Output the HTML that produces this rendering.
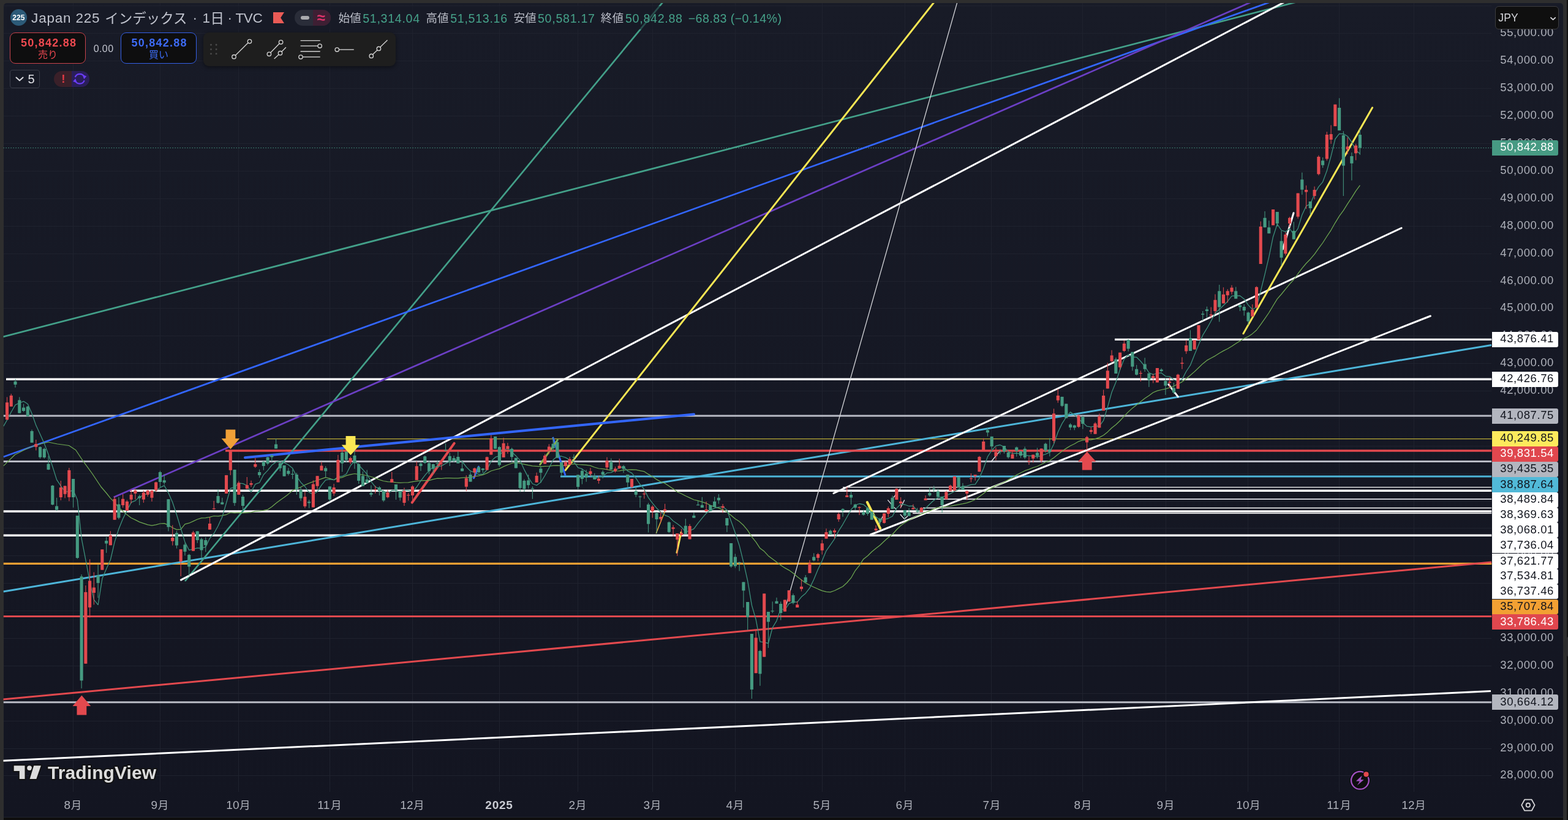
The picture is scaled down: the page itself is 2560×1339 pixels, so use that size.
<!DOCTYPE html>
<html><head><meta charset="utf-8"><title>Japan 225</title>
<style>
html,body{margin:0;padding:0}
body{width:2560px;height:1339px;background:#2e2e2e;overflow:hidden;position:relative;font-family:"Liberation Sans",sans-serif}
#panel{position:absolute;left:5.5px;top:5px;width:2546.9px;height:1329px;background:linear-gradient(#181b27,#131521);border-radius:5px 5px 0 0}
#bottom{position:absolute;left:5.5px;top:1334px;width:2546.9px;height:5px;background:#0e0e0e;border-top:1px solid #20232f;box-sizing:border-box}
#rightstrip{position:absolute;left:2558.3px;top:0;width:2px;height:1339px;background:#111111}
#chart{position:absolute;left:0;top:0}
#txt{position:absolute;left:0;top:0;width:2560px;height:1339px;will-change:transform}
.t{position:absolute;line-height:1;white-space:nowrap}
.pl{position:absolute;left:2436px;width:108.2px;border-radius:0 3px 3px 0;font-size:18.5px;letter-spacing:0.6px;line-height:1}

.btn{position:absolute;top:53.1px;width:124.3px;height:50.5px;border:1.5px solid;border-radius:9px;background:#0e0e0f;box-sizing:border-box}
.pl span{position:absolute;left:13.3px;top:50%;margin-top:-10px}
</style></head><body>
<div id="panel"></div><div id="bottom"></div><div id="rightstrip"></div>
<svg id="chart" width="2560" height="1339" viewBox="0 0 2560 1339">
<g stroke="#1f222e" stroke-width="1" shape-rendering="crispEdges">
<line x1="5.5" y1="1266.5" x2="2434.8" y2="1266.5"/>
<line x1="5.5" y1="1222.5" x2="2434.8" y2="1222.5"/>
<line x1="5.5" y1="1177.5" x2="2434.8" y2="1177.5"/>
<line x1="5.5" y1="1132.5" x2="2434.8" y2="1132.5"/>
<line x1="5.5" y1="1087.5" x2="2434.8" y2="1087.5"/>
<line x1="5.5" y1="1042.5" x2="2434.8" y2="1042.5"/>
<line x1="5.5" y1="997.5" x2="2434.8" y2="997.5"/>
<line x1="5.5" y1="952.5" x2="2434.8" y2="952.5"/>
<line x1="5.5" y1="907.5" x2="2434.8" y2="907.5"/>
<line x1="5.5" y1="862.5" x2="2434.8" y2="862.5"/>
<line x1="5.5" y1="818.5" x2="2434.8" y2="818.5"/>
<line x1="5.5" y1="773.5" x2="2434.8" y2="773.5"/>
<line x1="5.5" y1="728.5" x2="2434.8" y2="728.5"/>
<line x1="5.5" y1="683.5" x2="2434.8" y2="683.5"/>
<line x1="5.5" y1="638.5" x2="2434.8" y2="638.5"/>
<line x1="5.5" y1="593.5" x2="2434.8" y2="593.5"/>
<line x1="5.5" y1="548.5" x2="2434.8" y2="548.5"/>
<line x1="5.5" y1="503.5" x2="2434.8" y2="503.5"/>
<line x1="5.5" y1="459.5" x2="2434.8" y2="459.5"/>
<line x1="5.5" y1="414.5" x2="2434.8" y2="414.5"/>
<line x1="5.5" y1="369.5" x2="2434.8" y2="369.5"/>
<line x1="5.5" y1="324.5" x2="2434.8" y2="324.5"/>
<line x1="5.5" y1="279.5" x2="2434.8" y2="279.5"/>
<line x1="5.5" y1="234.5" x2="2434.8" y2="234.5"/>
<line x1="5.5" y1="189.5" x2="2434.8" y2="189.5"/>
<line x1="5.5" y1="144.5" x2="2434.8" y2="144.5"/>
<line x1="5.5" y1="99.5" x2="2434.8" y2="99.5"/>
<line x1="5.5" y1="54.5" x2="2434.8" y2="54.5"/>
<line x1="5.5" y1="9.5" x2="2434.8" y2="9.5"/>
<line x1="119.5" y1="5" x2="119.5" y2="1292.5"/>
<line x1="261.5" y1="5" x2="261.5" y2="1292.5"/>
<line x1="389.5" y1="5" x2="389.5" y2="1292.5"/>
<line x1="538.5" y1="5" x2="538.5" y2="1292.5"/>
<line x1="673.5" y1="5" x2="673.5" y2="1292.5"/>
<line x1="815.5" y1="5" x2="815.5" y2="1292.5"/>
<line x1="943.5" y1="5" x2="943.5" y2="1292.5"/>
<line x1="1065.5" y1="5" x2="1065.5" y2="1292.5"/>
<line x1="1200.5" y1="5" x2="1200.5" y2="1292.5"/>
<line x1="1342.5" y1="5" x2="1342.5" y2="1292.5"/>
<line x1="1477.5" y1="5" x2="1477.5" y2="1292.5"/>
<line x1="1618.5" y1="5" x2="1618.5" y2="1292.5"/>
<line x1="1767.5" y1="5" x2="1767.5" y2="1292.5"/>
<line x1="1903.5" y1="5" x2="1903.5" y2="1292.5"/>
<line x1="2037.5" y1="5" x2="2037.5" y2="1292.5"/>
<line x1="2186.5" y1="5" x2="2186.5" y2="1292.5"/>
<line x1="2308.5" y1="5" x2="2308.5" y2="1292.5"/>
</g>
<clipPath id="pane"><rect x="5.5" y="5" width="2430.0" height="1287.5"/></clipPath>
<g clip-path="url(#pane)">
<line x1="5.5" y1="241.5" x2="2435.5" y2="241.5" stroke="#4ba890" stroke-width="1" stroke-dasharray="1.3 2.7"/>
<line x1="5.5" y1="1146.7" x2="2435.5" y2="1146.7" stroke="#b9bbc5" stroke-width="3"/>
<line x1="5.5" y1="1006.5" x2="2435.5" y2="1006.5" stroke="#e2494e" stroke-width="3"/>
<line x1="5.5" y1="920.4" x2="2435.5" y2="920.4" stroke="#f2a033" stroke-width="3.4"/>
<line x1="5.5" y1="874.3" x2="2435.5" y2="874.3" stroke="#ffffff" stroke-width="3.4"/>
<line x1="1490.0" y1="838.3" x2="2435.5" y2="838.3" stroke="#ffffff" stroke-width="1.4"/>
<line x1="5.5" y1="835.0" x2="2435.5" y2="835.0" stroke="#ffffff" stroke-width="3.4"/>
<line x1="1507.0" y1="829.5" x2="2435.5" y2="829.5" stroke="#ffffff" stroke-width="1.4"/>
<line x1="1513.0" y1="815.0" x2="2435.5" y2="815.0" stroke="#c9cad2" stroke-width="2"/>
<line x1="212.0" y1="801.2" x2="2435.5" y2="801.2" stroke="#ffffff" stroke-width="3.4"/>
<line x1="1376.0" y1="795.6" x2="2435.5" y2="795.6" stroke="#ffffff" stroke-width="1.4"/>
<line x1="5.5" y1="753.4" x2="2435.5" y2="753.4" stroke="#b9bbc5" stroke-width="3"/>
<line x1="436.0" y1="716.6" x2="2435.5" y2="716.6" stroke="#b9a935" stroke-width="1.2"/>
<line x1="5.5" y1="679.0" x2="2435.5" y2="679.0" stroke="#b9bbc5" stroke-width="3"/>
<line x1="10.0" y1="619.3" x2="2435.5" y2="619.3" stroke="#ffffff" stroke-width="3.4"/>
<line x1="1820.0" y1="554.4" x2="2435.5" y2="554.4" stroke="#ffffff" stroke-width="3.4"/>
<line x1="5.0" y1="1242.2" x2="2434.0" y2="1128.5" stroke="#ffffff" stroke-width="3" stroke-linecap="butt"/>
<line x1="5.0" y1="1142.0" x2="2435.0" y2="918.0" stroke="#e2494e" stroke-width="3" stroke-linecap="butt"/>
<line x1="5.5" y1="966.0" x2="2435.0" y2="563.5" stroke="#4db5d9" stroke-width="3" stroke-linecap="butt"/>
<line x1="915.0" y1="778.0" x2="2435.5" y2="778.0" stroke="#4db5d9" stroke-width="3"/>
<line x1="368.0" y1="736.0" x2="2435.5" y2="736.0" stroke="#e2494e" stroke-width="3.4"/>
<line x1="5.0" y1="550.0" x2="2129.3" y2="0.0" stroke="#43a089" stroke-width="2.7" stroke-linecap="butt"/>
<line x1="302.0" y1="949.0" x2="1085.1" y2="0.0" stroke="#43a089" stroke-width="2.7" stroke-linecap="butt"/>
<line x1="5.6" y1="745.9" x2="2082.9" y2="0.0" stroke="#3366ff" stroke-width="2.7" stroke-linecap="butt"/>
<line x1="185.6" y1="811.9" x2="2050.5" y2="0.0" stroke="#6b3fc4" stroke-width="2.7" stroke-linecap="butt"/>
<line x1="294.4" y1="947.7" x2="2103.5" y2="0.0" stroke="#ffffff" stroke-width="3" stroke-linecap="butt"/>
<line x1="922.3" y1="768.8" x2="1527.9" y2="0.0" stroke="#fbe754" stroke-width="3" stroke-linecap="butt"/>
<line x1="1283.0" y1="990.0" x2="1563.9" y2="0.0" stroke="#d5d6da" stroke-width="1.3" stroke-linecap="butt"/>
<line x1="1361.0" y1="805.5" x2="2288.1" y2="372.3" stroke="#ffffff" stroke-width="3" stroke-linecap="round"/>
<line x1="1421.2" y1="873.0" x2="2335.4" y2="516.0" stroke="#ffffff" stroke-width="3" stroke-linecap="round"/>
<line x1="400.0" y1="747.2" x2="1133.0" y2="676.4" stroke="#3366ff" stroke-width="4" stroke-linecap="round"/>
<line x1="902.5" y1="713.8" x2="923.1" y2="776.6" stroke="#3366ff" stroke-width="3" stroke-linecap="butt"/>
<line x1="672.8" y1="820.6" x2="741.6" y2="723.8" stroke="#e2494e" stroke-width="4" stroke-linecap="round"/>
<line x1="881.7" y1="758.6" x2="910.3" y2="718.4" stroke="#8fb24c" stroke-width="3" stroke-linecap="round"/>
<line x1="2029.9" y1="544.7" x2="2240.6" y2="175.7" stroke="#fbe754" stroke-width="3" stroke-linecap="round"/>
<line x1="1415.8" y1="820.0" x2="1437.2" y2="862.8" stroke="#fbe754" stroke-width="4" stroke-linecap="round"/>
<line x1="1105.0" y1="902.3" x2="1111.9" y2="869.5" stroke="#fbe754" stroke-width="3" stroke-linecap="round"/>
<line x1="1071.2" y1="871.0" x2="1085.6" y2="834.7" stroke="#e5b13a" stroke-width="1.5" stroke-linecap="butt"/>
<line x1="1907.8" y1="627.6" x2="1923.3" y2="647.9" stroke="#ffffff" stroke-width="3" stroke-linecap="round"/>
<line x1="2094.3" y1="407.0" x2="2112.0" y2="347.7" stroke="#ffffff" stroke-width="3" stroke-linecap="round"/>
<line x1="773.6" y1="780.8" x2="781.4" y2="762.0" stroke="#3366ff" stroke-width="3" stroke-linecap="round"/>
<line x1="1449.4" y1="816.4" x2="1455.3" y2="823.4" stroke="#e6e6ea" stroke-width="1.3" stroke-linecap="butt"/>
<line x1="1459.5" y1="828.1" x2="1463.4" y2="832.0" stroke="#e6e6ea" stroke-width="1.3" stroke-linecap="butt"/>
<line x1="1470.0" y1="797.7" x2="1458.8" y2="812.5" stroke="#e6e6ea" stroke-width="1.3" stroke-linecap="butt"/>
<line x1="1476.7" y1="816.4" x2="1470.0" y2="829.7" stroke="#e6e6ea" stroke-width="1.3" stroke-linecap="butt"/>
<line x1="1469.7" y1="839.8" x2="1476.7" y2="847.7" stroke="#e6e6ea" stroke-width="1.3" stroke-linecap="butt"/>
<line x1="1476.7" y1="847.7" x2="1482.2" y2="842.2" stroke="#e6e6ea" stroke-width="1.3" stroke-linecap="butt"/>
<line x1="1435.6" y1="854.7" x2="1441.6" y2="842.2" stroke="#e6e6ea" stroke-width="1.3" stroke-linecap="butt"/>
<line x1="1618.0" y1="754.0" x2="1633.0" y2="736.2" stroke="#e6e6ea" stroke-width="1.3" stroke-linecap="butt"/>
<polyline fill="none" stroke="#6ea851" stroke-width="1.25" stroke-linejoin="round" points="5.6,760.9 24.4,742.5 46.9,731.0 61.9,726.0 78.8,722.0 93.8,725.0 112.5,727.5 123.8,735.0 135.0,752.0 150.0,772.5 165.0,795.0 173.6,805.0 180.4,813.6 187.1,820.4 193.9,829.1 200.6,834.7 207.4,840.6 214.2,845.7 220.9,848.9 227.7,852.4 234.4,854.7 241.2,856.9 247.9,858.2 254.7,856.8 261.4,855.0 268.2,854.6 274.9,857.3 281.7,861.7 288.5,864.9 295.2,864.3 302.0,855.9 308.7,854.2 315.5,851.1 322.2,848.0 329.0,845.8 335.7,845.6 342.5,844.3 349.2,842.5 356.0,842.8 362.8,841.9 369.5,840.3 376.3,837.0 383.0,837.6 389.8,837.1 396.5,837.6 403.3,837.1 410.0,836.6 416.8,834.9 423.6,834.4 430.3,833.4 437.1,832.1 443.8,827.6 450.6,821.8 457.3,816.7 464.1,811.9 470.8,806.9 477.6,800.8 484.3,798.0 491.1,795.3 497.9,791.8 504.6,789.0 511.4,786.5 518.1,784.3 524.9,781.9 531.6,779.7 538.4,781.3 545.1,783.7 551.9,780.9 558.7,779.6 565.4,776.6 572.2,774.9 578.9,773.5 585.7,774.6 592.4,775.3 599.2,776.5 605.9,778.5 612.7,780.6 619.5,783.4 626.2,785.5 633.0,786.6 639.7,786.9 646.5,787.9 653.2,788.4 660.0,788.0 666.7,787.8 673.5,786.7 680.2,785.6 687.0,784.9 693.8,784.7 700.5,784.7 707.3,782.7 714.0,781.2 720.8,781.4 727.5,780.6 734.3,780.7 741.0,780.8 747.8,780.9 754.5,780.2 761.3,779.7 768.1,779.6 774.8,777.9 781.6,776.8 788.3,775.4 795.1,772.6 801.8,769.0 808.6,767.0 815.3,765.4 822.1,761.9 828.9,759.0 835.6,756.5 842.4,755.3 849.1,756.7 855.9,758.2 862.6,759.7 869.4,760.8 876.1,761.3 882.9,761.9 889.6,761.4 896.4,761.1 903.2,760.3 909.9,760.1 916.7,760.7 923.4,760.1 930.2,758.8 936.9,757.3 943.7,758.5 950.4,758.9 957.2,759.4 964.0,760.3 970.7,763.0 977.5,765.0 984.2,765.6 991.0,766.7 997.7,768.3 1004.5,769.0 1011.2,768.9 1018.0,767.6 1024.8,767.2 1031.5,766.8 1038.3,767.2 1045.0,768.6 1051.8,769.9 1058.5,774.4 1065.3,778.3 1072.0,782.9 1078.8,786.8 1085.5,789.2 1092.3,793.8 1099.1,798.2 1105.8,803.2 1112.6,806.2 1119.3,809.8 1126.1,812.9 1132.8,816.0 1139.6,817.7 1146.3,819.6 1153.1,821.8 1159.8,825.1 1166.6,827.6 1173.4,829.6 1180.1,832.3 1186.9,836.0 1193.6,841.5 1200.4,847.2 1207.1,851.6 1213.9,857.8 1220.6,865.8 1227.4,876.6 1234.2,885.2 1240.9,895.3 1247.7,900.3 1254.4,907.7 1261.2,912.8 1267.9,917.8 1274.7,923.0 1281.4,927.4 1288.2,931.1 1295.0,936.1 1301.7,941.8 1308.5,947.1 1315.2,951.9 1322.0,955.5 1328.7,958.7 1335.5,961.8 1342.2,964.6 1349.0,966.3 1355.7,966.9 1362.5,964.5 1369.3,961.1 1376.0,957.7 1382.8,951.5 1389.5,943.7 1396.3,931.8 1403.0,923.3 1409.8,912.9 1416.5,907.7 1423.3,901.0 1430.0,895.6 1436.8,890.3 1443.6,883.7 1450.3,877.8 1457.1,872.5 1463.8,865.0 1470.6,858.3 1477.3,853.6 1484.1,849.3 1490.8,845.7 1497.6,842.5 1504.4,839.4 1511.1,836.5 1517.9,834.1 1524.6,831.1 1531.4,828.9 1538.1,828.3 1544.9,827.1 1551.6,826.5 1558.4,825.1 1565.1,823.8 1571.9,822.7 1578.7,821.1 1585.4,818.8 1592.2,815.8 1598.9,811.1 1605.7,805.9 1612.4,800.6 1619.2,796.6 1625.9,792.9 1632.7,790.5 1639.5,787.2 1646.2,783.4 1653.0,779.4 1659.7,775.6 1666.5,772.0 1673.2,768.7 1680.0,766.3 1686.7,763.6 1693.5,761.5 1700.2,758.3 1707.0,754.7 1713.8,752.1 1720.5,747.4 1727.3,742.1 1734.0,736.8 1740.8,732.1 1747.5,728.0 1754.3,724.7 1761.0,720.8 1767.8,718.7 1774.6,718.4 1781.3,718.2 1788.1,716.7 1794.8,714.4 1801.6,710.7 1808.3,705.4 1815.1,698.7 1821.8,693.5 1828.6,687.0 1835.3,679.7 1842.1,672.6 1848.9,666.4 1855.6,661.2 1862.4,655.8 1869.1,650.6 1875.9,646.0 1882.6,641.0 1889.4,638.1 1896.1,636.5 1902.9,635.1 1909.7,632.8 1916.4,630.5 1923.2,627.0 1929.9,623.6 1936.7,618.4 1943.4,612.8 1950.2,606.9 1956.9,600.5 1963.7,593.9 1970.5,588.4 1977.2,584.7 1984.0,581.1 1990.7,576.7 1997.5,572.9 2004.2,569.5 2011.0,565.5 2017.7,561.1 2024.5,556.7 2031.2,552.6 2038.0,549.5 2044.8,544.9 2051.5,539.0 2058.3,529.8 2065.0,520.4 2071.8,510.5 2078.5,499.2 2085.3,488.2 2092.0,480.5 2098.8,472.2 2105.6,463.8 2112.3,456.5 2119.1,447.0 2125.8,438.1 2132.6,430.0 2139.3,423.2 2146.1,415.1 2152.8,405.7 2159.6,396.5 2166.3,386.0 2173.1,375.8 2179.9,363.8 2186.6,352.8 2193.4,343.6 2200.1,332.9 2206.9,322.6 2213.6,311.8 2220.4,302.7"/>
<polyline fill="none" stroke="#3c907c" stroke-width="1.3" stroke-linejoin="round" points="5.6,696.2 11.5,686.0 18.2,673.0 25.0,661.2 31.8,658.0 38.5,655.3 45.3,659.8 52.0,675.2 58.8,694.6 65.5,709.0 72.3,724.2 79.0,741.7 85.8,761.9 92.6,783.4 99.3,793.3 106.1,802.6 112.8,802.8 119.6,800.4 126.3,816.1 133.1,879.1 139.8,913.8 146.6,949.9 153.4,979.4 160.1,987.6 166.9,944.8 173.6,928.9 180.4,914.0 187.1,885.1 193.9,863.8 200.6,847.3 207.4,833.6 214.2,820.3 220.9,817.6 227.7,811.2 234.4,809.1 241.2,805.5 247.9,804.2 254.7,801.5 261.4,796.2 268.2,792.9 274.9,804.8 281.7,820.2 288.5,840.8 295.2,862.8 302.0,885.4 308.7,898.3 315.5,896.6 322.2,894.9 329.0,895.2 335.7,893.1 342.5,879.0 349.2,871.2 356.0,859.0 362.8,844.1 369.5,821.2 376.3,797.5 383.0,795.7 389.8,789.1 396.5,789.6 403.3,792.9 410.0,803.4 416.8,790.7 423.6,788.2 430.3,775.2 437.1,768.1 443.8,759.6 450.6,754.6 457.3,752.3 464.1,755.6 470.8,759.0 477.6,764.6 484.3,777.9 491.1,787.7 497.9,794.5 504.6,804.0 511.4,807.2 518.1,802.8 524.9,792.2 531.6,783.8 538.4,782.7 545.1,783.7 551.9,778.5 558.7,777.7 565.4,774.0 572.2,760.5 578.9,752.6 585.7,759.4 592.4,766.8 599.2,774.4 605.9,786.4 612.7,794.9 619.5,798.4 626.2,803.0 633.0,806.1 639.7,801.0 646.5,801.1 653.2,803.1 660.0,800.0 666.7,800.8 673.5,803.2 680.2,795.5 687.0,785.2 693.8,776.1 700.5,768.4 707.3,762.6 714.0,761.8 720.8,760.9 727.5,756.9 734.3,753.6 741.0,751.0 747.8,750.9 754.5,753.5 761.3,762.5 768.1,769.2 774.8,771.6 781.6,774.6 788.3,774.2 795.1,767.3 801.8,753.1 808.6,746.7 815.3,744.3 822.1,735.6 828.9,732.0 835.6,738.1 842.4,744.4 849.1,751.9 855.9,766.9 862.6,779.6 869.4,790.0 876.1,792.5 882.9,787.5 889.6,776.6 896.4,764.1 903.2,750.8 909.9,745.0 916.7,745.0 923.4,747.1 930.2,751.1 936.9,754.2 943.7,763.6 950.4,765.7 957.2,770.8 964.0,774.7 970.7,781.9 977.5,779.2 984.2,777.8 991.0,772.2 997.7,771.7 1004.5,768.2 1011.2,764.0 1018.0,762.1 1024.8,769.2 1031.5,772.3 1038.3,780.8 1045.0,791.0 1051.8,799.0 1058.5,812.6 1065.3,821.6 1072.0,829.7 1078.8,836.2 1085.5,841.3 1092.3,843.9 1099.1,850.7 1105.8,855.3 1112.6,860.6 1119.3,868.6 1126.1,866.7 1132.8,863.6 1139.6,854.4 1146.3,846.1 1153.1,838.1 1159.8,833.3 1166.6,829.7 1173.4,828.1 1180.1,827.6 1186.9,832.8 1193.6,850.9 1200.4,870.2 1207.1,890.7 1213.9,918.3 1220.6,948.2 1227.4,988.4 1234.2,1011.8 1240.9,1047.9 1247.7,1048.9 1254.4,1050.5 1261.2,1025.0 1267.9,1013.8 1274.7,994.0 1281.4,996.0 1288.2,985.7 1295.0,982.9 1301.7,983.2 1308.5,974.6 1315.2,968.9 1322.0,960.1 1328.7,946.3 1335.5,929.8 1342.2,915.7 1349.0,899.3 1355.7,889.9 1362.5,880.1 1369.3,866.9 1376.0,856.3 1382.8,844.3 1389.5,832.2 1396.3,824.8 1403.0,822.5 1409.8,823.8 1416.5,829.8 1423.3,837.1 1430.0,843.9 1436.8,848.8 1443.6,848.3 1450.3,846.5 1457.1,843.0 1463.8,829.9 1470.6,823.3 1477.3,824.0 1484.1,826.5 1490.8,826.2 1497.6,833.6 1504.4,835.6 1511.1,830.0 1517.9,823.3 1524.6,817.1 1531.4,812.3 1538.1,811.5 1544.9,809.5 1551.6,806.2 1558.4,802.1 1565.1,799.1 1571.9,794.1 1578.7,793.7 1585.4,791.3 1592.2,790.8 1598.9,780.8 1605.7,765.0 1612.4,745.9 1619.2,735.5 1625.9,728.1 1632.7,726.5 1639.5,729.9 1646.2,737.9 1653.0,740.5 1659.7,740.1 1666.5,741.2 1673.2,743.1 1680.0,744.4 1686.7,744.5 1693.5,746.2 1700.2,743.9 1707.0,741.6 1713.8,738.7 1720.5,725.2 1727.3,705.5 1734.0,691.6 1740.8,681.0 1747.5,672.9 1754.3,677.6 1761.0,684.2 1767.8,690.0 1774.6,696.2 1781.3,697.1 1788.1,695.7 1794.8,695.8 1801.6,686.6 1808.3,664.9 1815.1,640.5 1821.8,624.2 1828.6,603.5 1835.3,586.5 1842.1,579.3 1848.9,583.0 1855.6,583.3 1862.4,590.0 1869.1,598.3 1875.9,608.5 1882.6,611.6 1889.4,609.5 1896.1,608.9 1902.9,614.3 1909.7,614.8 1916.4,620.2 1923.2,622.4 1929.9,619.6 1936.7,606.5 1943.4,596.4 1950.2,579.3 1956.9,563.1 1963.7,547.4 1970.5,536.2 1977.2,524.3 1984.0,511.2 1990.7,505.3 1997.5,498.7 2004.2,492.2 2011.0,483.4 2017.7,483.0 2024.5,483.0 2031.2,488.2 2038.0,498.1 2044.8,505.3 2051.5,501.5 2058.3,475.2 2065.0,448.1 2071.8,419.4 2078.5,386.7 2085.3,365.9 2092.0,376.0 2098.8,378.4 2105.6,373.3 2112.3,383.0 2119.1,373.1 2125.8,350.9 2132.6,336.3 2139.3,333.2 2146.1,317.0 2152.8,305.1 2159.6,297.1 2166.3,279.1 2173.1,254.9 2179.9,227.0 2186.6,218.4 2193.4,218.6 2200.1,222.5 2206.9,232.0 2213.6,245.4 2220.4,251.1"/>
<g>
<rect x="10.90" y="648.4" width="1.2" height="37.6" fill="#e2494e" opacity="0.88"/>
<rect x="8.95" y="657.2" width="5.1" height="28.1" fill="#e2494e"/>
<rect x="17.65" y="643.0" width="1.2" height="20.8" fill="#e2494e" opacity="0.88"/>
<rect x="15.70" y="645.9" width="5.1" height="17.9" fill="#e2494e"/>
<rect x="24.41" y="618.8" width="1.2" height="14.0" fill="#459a81" opacity="0.88"/>
<rect x="22.46" y="622.9" width="5.1" height="5.1" fill="#459a81"/>
<rect x="31.16" y="648.4" width="1.2" height="26.2" fill="#459a81" opacity="0.88"/>
<rect x="29.21" y="653.4" width="5.1" height="21.2" fill="#459a81"/>
<rect x="37.92" y="659.6" width="1.2" height="13.1" fill="#459a81" opacity="0.88"/>
<rect x="35.97" y="665.6" width="5.1" height="5.4" fill="#459a81"/>
<rect x="44.67" y="663.0" width="1.2" height="17.0" fill="#459a81" opacity="0.88"/>
<rect x="42.73" y="663.8" width="5.1" height="16.0" fill="#459a81"/>
<rect x="51.43" y="701.6" width="1.2" height="21.2" fill="#459a81" opacity="0.88"/>
<rect x="49.48" y="704.0" width="5.1" height="18.8" fill="#459a81"/>
<rect x="58.18" y="718.0" width="1.2" height="17.4" fill="#e2494e" opacity="0.88"/>
<rect x="56.23" y="725.0" width="5.1" height="4.8" fill="#e2494e"/>
<rect x="64.94" y="729.0" width="1.2" height="20.0" fill="#459a81" opacity="0.88"/>
<rect x="62.99" y="730.0" width="5.1" height="16.6" fill="#459a81"/>
<rect x="71.70" y="731.0" width="1.2" height="18.0" fill="#459a81" opacity="0.88"/>
<rect x="69.75" y="733.0" width="5.1" height="14.0" fill="#459a81"/>
<rect x="78.45" y="744.4" width="1.2" height="23.0" fill="#459a81" opacity="0.88"/>
<rect x="76.50" y="757.5" width="5.1" height="9.4" fill="#459a81"/>
<rect x="85.20" y="792.0" width="1.2" height="33.0" fill="#459a81" opacity="0.88"/>
<rect x="83.25" y="793.0" width="5.1" height="31.0" fill="#459a81"/>
<rect x="91.96" y="812.8" width="1.2" height="21.2" fill="#459a81" opacity="0.88"/>
<rect x="90.01" y="826.5" width="5.1" height="6.0" fill="#459a81"/>
<rect x="98.72" y="785.0" width="1.2" height="32.0" fill="#e2494e" opacity="0.88"/>
<rect x="96.77" y="796.0" width="5.1" height="16.0" fill="#e2494e"/>
<rect x="105.47" y="793.0" width="1.2" height="20.4" fill="#e2494e" opacity="0.88"/>
<rect x="103.52" y="793.5" width="5.1" height="13.3" fill="#e2494e"/>
<rect x="112.23" y="764.0" width="1.2" height="54.4" fill="#e2494e" opacity="0.88"/>
<rect x="110.28" y="767.8" width="5.1" height="44.1" fill="#e2494e"/>
<rect x="118.98" y="782.0" width="1.2" height="46.8" fill="#459a81" opacity="0.88"/>
<rect x="117.03" y="782.0" width="5.1" height="30.0" fill="#459a81"/>
<rect x="125.73" y="842.0" width="1.2" height="70.5" fill="#459a81" opacity="0.88"/>
<rect x="123.78" y="842.0" width="5.1" height="69.0" fill="#459a81"/>
<rect x="132.49" y="938.0" width="1.2" height="186.1" fill="#459a81" opacity="0.88"/>
<rect x="130.54" y="941.4" width="5.1" height="169.9" fill="#459a81"/>
<rect x="139.25" y="956.0" width="1.2" height="127.7" fill="#e2494e" opacity="0.88"/>
<rect x="137.29" y="966.9" width="5.1" height="116.8" fill="#e2494e"/>
<rect x="146.00" y="913.3" width="1.2" height="95.2" fill="#e2494e" opacity="0.88"/>
<rect x="144.05" y="948.4" width="5.1" height="43.5" fill="#e2494e"/>
<rect x="152.75" y="934.4" width="1.2" height="53.1" fill="#e2494e" opacity="0.88"/>
<rect x="150.80" y="959.4" width="5.1" height="8.6" fill="#e2494e"/>
<rect x="159.51" y="921.9" width="1.2" height="54.4" fill="#459a81" opacity="0.88"/>
<rect x="157.56" y="939.8" width="5.1" height="12.1" fill="#459a81"/>
<rect x="166.27" y="897.2" width="1.2" height="33.4" fill="#e2494e" opacity="0.88"/>
<rect x="164.31" y="897.2" width="5.1" height="33.4" fill="#e2494e"/>
<rect x="173.02" y="877.0" width="1.2" height="25.8" fill="#459a81" opacity="0.88"/>
<rect x="171.07" y="883.0" width="5.1" height="4.5" fill="#459a81"/>
<rect x="179.78" y="867.2" width="1.2" height="23.1" fill="#e2494e" opacity="0.88"/>
<rect x="177.82" y="874.2" width="5.1" height="16.1" fill="#e2494e"/>
<rect x="186.53" y="811.0" width="1.2" height="37.8" fill="#e2494e" opacity="0.88"/>
<rect x="184.58" y="814.7" width="5.1" height="34.1" fill="#e2494e"/>
<rect x="193.28" y="811.9" width="1.2" height="36.1" fill="#459a81" opacity="0.88"/>
<rect x="191.33" y="823.5" width="5.1" height="22.0" fill="#459a81"/>
<rect x="200.04" y="807.0" width="1.2" height="22.0" fill="#e2494e" opacity="0.88"/>
<rect x="198.09" y="814.7" width="5.1" height="10.3" fill="#e2494e"/>
<rect x="206.80" y="816.5" width="1.2" height="17.5" fill="#e2494e" opacity="0.88"/>
<rect x="204.84" y="819.0" width="5.1" height="15.0" fill="#e2494e"/>
<rect x="213.55" y="799.0" width="1.2" height="23.0" fill="#e2494e" opacity="0.88"/>
<rect x="211.60" y="807.8" width="5.1" height="7.9" fill="#e2494e"/>
<rect x="220.31" y="798.4" width="1.2" height="17.2" fill="#e2494e" opacity="0.88"/>
<rect x="218.35" y="801.0" width="5.1" height="4.9" fill="#e2494e"/>
<rect x="227.06" y="807.8" width="1.2" height="17.2" fill="#459a81" opacity="0.88"/>
<rect x="225.11" y="810.4" width="5.1" height="3.0" fill="#459a81"/>
<rect x="233.81" y="801.0" width="1.2" height="19.9" fill="#e2494e" opacity="0.88"/>
<rect x="231.86" y="804.4" width="5.1" height="11.2" fill="#e2494e"/>
<rect x="240.57" y="799.7" width="1.2" height="11.3" fill="#e2494e" opacity="0.88"/>
<rect x="238.62" y="801.0" width="5.1" height="6.8" fill="#e2494e"/>
<rect x="247.32" y="800.6" width="1.2" height="18.4" fill="#e2494e" opacity="0.88"/>
<rect x="245.37" y="801.0" width="5.1" height="11.8" fill="#e2494e"/>
<rect x="254.08" y="786.6" width="1.2" height="16.8" fill="#e2494e" opacity="0.88"/>
<rect x="252.13" y="787.5" width="5.1" height="13.1" fill="#e2494e"/>
<rect x="260.83" y="768.8" width="1.2" height="26.2" fill="#459a81" opacity="0.88"/>
<rect x="258.88" y="771.0" width="5.1" height="16.0" fill="#459a81"/>
<rect x="267.59" y="774.4" width="1.2" height="16.9" fill="#459a81" opacity="0.88"/>
<rect x="265.64" y="784.3" width="5.1" height="3.7" fill="#459a81"/>
<rect x="274.34" y="815.0" width="1.2" height="52.5" fill="#459a81" opacity="0.88"/>
<rect x="272.39" y="815.2" width="5.1" height="45.4" fill="#459a81"/>
<rect x="281.10" y="857.5" width="1.2" height="33.1" fill="#e2494e" opacity="0.88"/>
<rect x="279.15" y="878.0" width="5.1" height="5.6" fill="#e2494e"/>
<rect x="287.85" y="866.9" width="1.2" height="28.7" fill="#459a81" opacity="0.88"/>
<rect x="285.90" y="870.3" width="5.1" height="20.3" fill="#459a81"/>
<rect x="294.61" y="896.9" width="1.2" height="44.1" fill="#e2494e" opacity="0.88"/>
<rect x="292.66" y="896.9" width="5.1" height="20.0" fill="#e2494e"/>
<rect x="301.36" y="886.7" width="1.2" height="20.3" fill="#459a81" opacity="0.88"/>
<rect x="299.41" y="889.4" width="5.1" height="11.4" fill="#459a81"/>
<rect x="308.12" y="904.4" width="1.2" height="36.6" fill="#459a81" opacity="0.88"/>
<rect x="306.17" y="906.0" width="5.1" height="19.3" fill="#459a81"/>
<rect x="314.88" y="866.9" width="1.2" height="32.8" fill="#e2494e" opacity="0.88"/>
<rect x="312.93" y="869.5" width="5.1" height="30.2" fill="#e2494e"/>
<rect x="321.63" y="867.5" width="1.2" height="19.2" fill="#459a81" opacity="0.88"/>
<rect x="319.68" y="867.5" width="5.1" height="14.5" fill="#459a81"/>
<rect x="328.38" y="878.0" width="1.2" height="34.5" fill="#459a81" opacity="0.88"/>
<rect x="326.44" y="880.5" width="5.1" height="17.9" fill="#459a81"/>
<rect x="335.14" y="877.3" width="1.2" height="24.0" fill="#459a81" opacity="0.88"/>
<rect x="333.19" y="882.0" width="5.1" height="8.3" fill="#459a81"/>
<rect x="341.89" y="844.5" width="1.2" height="20.3" fill="#e2494e" opacity="0.88"/>
<rect x="339.94" y="855.0" width="5.1" height="9.8" fill="#e2494e"/>
<rect x="348.65" y="817.9" width="1.2" height="14.6" fill="#e2494e" opacity="0.88"/>
<rect x="346.70" y="830.2" width="5.1" height="1.2" fill="#e2494e"/>
<rect x="355.40" y="798.8" width="1.2" height="23.5" fill="#459a81" opacity="0.88"/>
<rect x="353.45" y="810.0" width="5.1" height="11.2" fill="#459a81"/>
<rect x="362.16" y="812.8" width="1.2" height="11.2" fill="#459a81" opacity="0.88"/>
<rect x="360.21" y="820.3" width="5.1" height="3.2" fill="#459a81"/>
<rect x="368.91" y="775.9" width="1.2" height="30.0" fill="#e2494e" opacity="0.88"/>
<rect x="366.96" y="775.9" width="5.1" height="30.0" fill="#e2494e"/>
<rect x="375.67" y="736.5" width="1.2" height="39.4" fill="#e2494e" opacity="0.88"/>
<rect x="373.72" y="736.5" width="5.1" height="31.3" fill="#e2494e"/>
<rect x="382.42" y="766.9" width="1.2" height="59.1" fill="#459a81" opacity="0.88"/>
<rect x="380.47" y="766.9" width="5.1" height="54.4" fill="#459a81"/>
<rect x="389.18" y="785.6" width="1.2" height="22.1" fill="#e2494e" opacity="0.88"/>
<rect x="387.23" y="788.4" width="5.1" height="19.4" fill="#e2494e"/>
<rect x="395.93" y="808.0" width="1.2" height="26.4" fill="#459a81" opacity="0.88"/>
<rect x="393.98" y="811.0" width="5.1" height="15.0" fill="#459a81"/>
<rect x="402.69" y="779.0" width="1.2" height="19.8" fill="#e2494e" opacity="0.88"/>
<rect x="400.74" y="792.2" width="5.1" height="5.6" fill="#e2494e"/>
<rect x="409.44" y="784.7" width="1.2" height="10.3" fill="#e2494e" opacity="0.88"/>
<rect x="407.50" y="789.0" width="5.1" height="2.6" fill="#e2494e"/>
<rect x="416.20" y="748.0" width="1.2" height="16.0" fill="#e2494e" opacity="0.88"/>
<rect x="414.25" y="757.9" width="5.1" height="4.3" fill="#e2494e"/>
<rect x="422.95" y="766.5" width="1.2" height="13.5" fill="#459a81" opacity="0.88"/>
<rect x="421.00" y="771.0" width="5.1" height="4.9" fill="#459a81"/>
<rect x="429.71" y="752.8" width="1.2" height="15.0" fill="#459a81" opacity="0.88"/>
<rect x="427.76" y="754.0" width="5.1" height="6.9" fill="#459a81"/>
<rect x="436.46" y="746.0" width="1.2" height="13.4" fill="#459a81" opacity="0.88"/>
<rect x="434.51" y="746.6" width="5.1" height="10.4" fill="#459a81"/>
<rect x="443.22" y="742.0" width="1.2" height="11.6" fill="#459a81" opacity="0.88"/>
<rect x="441.27" y="743.4" width="5.1" height="3.1" fill="#459a81"/>
<rect x="449.97" y="716.3" width="1.2" height="16.2" fill="#459a81" opacity="0.88"/>
<rect x="448.02" y="725.5" width="5.1" height="7.0" fill="#459a81"/>
<rect x="456.73" y="755.0" width="1.2" height="14.5" fill="#459a81" opacity="0.88"/>
<rect x="454.78" y="756.2" width="5.1" height="8.3" fill="#459a81"/>
<rect x="463.48" y="759.9" width="1.2" height="17.8" fill="#459a81" opacity="0.88"/>
<rect x="461.53" y="759.9" width="5.1" height="17.8" fill="#459a81"/>
<rect x="470.24" y="764.2" width="1.2" height="12.2" fill="#459a81" opacity="0.88"/>
<rect x="468.29" y="768.8" width="5.1" height="5.0" fill="#459a81"/>
<rect x="476.99" y="766.7" width="1.2" height="15.6" fill="#459a81" opacity="0.88"/>
<rect x="475.04" y="773.8" width="5.1" height="1.2" fill="#459a81"/>
<rect x="483.75" y="772.0" width="1.2" height="35.8" fill="#459a81" opacity="0.88"/>
<rect x="481.80" y="775.0" width="5.1" height="24.0" fill="#459a81"/>
<rect x="490.50" y="795.6" width="1.2" height="22.2" fill="#459a81" opacity="0.88"/>
<rect x="488.56" y="800.0" width="5.1" height="13.6" fill="#459a81"/>
<rect x="497.26" y="802.7" width="1.2" height="27.0" fill="#e2494e" opacity="0.88"/>
<rect x="495.31" y="811.2" width="5.1" height="15.6" fill="#e2494e"/>
<rect x="504.01" y="816.2" width="1.2" height="13.5" fill="#459a81" opacity="0.88"/>
<rect x="502.06" y="819.4" width="5.1" height="2.0" fill="#459a81"/>
<rect x="510.77" y="784.4" width="1.2" height="44.0" fill="#e2494e" opacity="0.88"/>
<rect x="508.82" y="790.6" width="5.1" height="37.8" fill="#e2494e"/>
<rect x="517.52" y="777.2" width="1.2" height="21.5" fill="#e2494e" opacity="0.88"/>
<rect x="515.58" y="777.2" width="5.1" height="16.5" fill="#e2494e"/>
<rect x="524.28" y="754.2" width="1.2" height="14.1" fill="#e2494e" opacity="0.88"/>
<rect x="522.33" y="760.5" width="5.1" height="7.8" fill="#e2494e"/>
<rect x="531.03" y="761.2" width="1.2" height="18.0" fill="#459a81" opacity="0.88"/>
<rect x="529.09" y="764.4" width="5.1" height="5.0" fill="#459a81"/>
<rect x="537.79" y="794.4" width="1.2" height="24.6" fill="#459a81" opacity="0.88"/>
<rect x="535.84" y="794.4" width="5.1" height="21.2" fill="#459a81"/>
<rect x="544.54" y="790.0" width="1.2" height="19.7" fill="#e2494e" opacity="0.88"/>
<rect x="542.60" y="796.0" width="5.1" height="9.8" fill="#e2494e"/>
<rect x="551.30" y="742.8" width="1.2" height="44.7" fill="#e2494e" opacity="0.88"/>
<rect x="549.35" y="751.0" width="5.1" height="36.5" fill="#e2494e"/>
<rect x="558.05" y="733.0" width="1.2" height="37.6" fill="#459a81" opacity="0.88"/>
<rect x="556.11" y="739.0" width="5.1" height="17.6" fill="#459a81"/>
<rect x="564.81" y="737.5" width="1.2" height="17.8" fill="#459a81" opacity="0.88"/>
<rect x="562.86" y="737.5" width="5.1" height="13.5" fill="#459a81"/>
<rect x="571.56" y="745.6" width="1.2" height="12.4" fill="#e2494e" opacity="0.88"/>
<rect x="569.62" y="748.0" width="5.1" height="6.7" fill="#e2494e"/>
<rect x="578.32" y="734.4" width="1.2" height="31.2" fill="#459a81" opacity="0.88"/>
<rect x="576.37" y="743.8" width="5.1" height="12.5" fill="#459a81"/>
<rect x="585.07" y="755.8" width="1.2" height="34.2" fill="#459a81" opacity="0.88"/>
<rect x="583.12" y="758.0" width="5.1" height="27.0" fill="#459a81"/>
<rect x="591.83" y="769.8" width="1.2" height="24.0" fill="#459a81" opacity="0.88"/>
<rect x="589.88" y="777.2" width="5.1" height="16.5" fill="#459a81"/>
<rect x="598.58" y="767.5" width="1.2" height="21.9" fill="#459a81" opacity="0.88"/>
<rect x="596.63" y="783.0" width="5.1" height="6.0" fill="#459a81"/>
<rect x="605.34" y="792.5" width="1.2" height="18.5" fill="#459a81" opacity="0.88"/>
<rect x="603.39" y="805.0" width="5.1" height="2.8" fill="#459a81"/>
<rect x="612.09" y="793.3" width="1.2" height="12.5" fill="#e2494e" opacity="0.88"/>
<rect x="610.14" y="799.0" width="5.1" height="1.2" fill="#e2494e"/>
<rect x="618.85" y="794.0" width="1.2" height="15.0" fill="#459a81" opacity="0.88"/>
<rect x="616.90" y="796.0" width="5.1" height="6.2" fill="#459a81"/>
<rect x="625.61" y="800.3" width="1.2" height="19.2" fill="#459a81" opacity="0.88"/>
<rect x="623.66" y="801.9" width="5.1" height="15.3" fill="#459a81"/>
<rect x="632.36" y="799.5" width="1.2" height="14.1" fill="#e2494e" opacity="0.88"/>
<rect x="630.41" y="804.2" width="5.1" height="7.8" fill="#e2494e"/>
<rect x="639.12" y="770.6" width="1.2" height="17.2" fill="#e2494e" opacity="0.88"/>
<rect x="637.17" y="782.3" width="5.1" height="5.5" fill="#e2494e"/>
<rect x="645.87" y="791.0" width="1.2" height="25.0" fill="#459a81" opacity="0.88"/>
<rect x="643.92" y="791.0" width="5.1" height="8.5" fill="#459a81"/>
<rect x="652.62" y="801.0" width="1.2" height="16.5" fill="#459a81" opacity="0.88"/>
<rect x="650.68" y="801.9" width="5.1" height="10.6" fill="#459a81"/>
<rect x="659.38" y="796.4" width="1.2" height="29.6" fill="#e2494e" opacity="0.88"/>
<rect x="657.43" y="801.6" width="5.1" height="19.4" fill="#e2494e"/>
<rect x="666.13" y="805.0" width="1.2" height="12.5" fill="#e2494e" opacity="0.88"/>
<rect x="664.19" y="808.0" width="5.1" height="1.2" fill="#e2494e"/>
<rect x="672.89" y="792.5" width="1.2" height="23.5" fill="#e2494e" opacity="0.88"/>
<rect x="670.94" y="794.4" width="5.1" height="14.6" fill="#e2494e"/>
<rect x="679.64" y="753.4" width="1.2" height="30.6" fill="#e2494e" opacity="0.88"/>
<rect x="677.70" y="761.2" width="5.1" height="22.8" fill="#e2494e"/>
<rect x="686.40" y="755.0" width="1.2" height="14.0" fill="#459a81" opacity="0.88"/>
<rect x="684.45" y="756.9" width="5.1" height="4.1" fill="#459a81"/>
<rect x="693.15" y="744.0" width="1.2" height="13.3" fill="#459a81" opacity="0.88"/>
<rect x="691.21" y="745.3" width="5.1" height="10.7" fill="#459a81"/>
<rect x="699.91" y="751.9" width="1.2" height="22.6" fill="#459a81" opacity="0.88"/>
<rect x="697.96" y="756.2" width="5.1" height="13.1" fill="#459a81"/>
<rect x="706.66" y="757.3" width="1.2" height="16.1" fill="#459a81" opacity="0.88"/>
<rect x="704.72" y="758.0" width="5.1" height="7.6" fill="#459a81"/>
<rect x="713.42" y="751.6" width="1.2" height="12.8" fill="#459a81" opacity="0.88"/>
<rect x="711.47" y="756.2" width="5.1" height="1.2" fill="#459a81"/>
<rect x="720.17" y="754.7" width="1.2" height="12.8" fill="#e2494e" opacity="0.88"/>
<rect x="718.23" y="756.5" width="5.1" height="1.2" fill="#e2494e"/>
<rect x="726.93" y="724.0" width="1.2" height="11.9" fill="#459a81" opacity="0.88"/>
<rect x="724.98" y="734.7" width="5.1" height="1.2" fill="#459a81"/>
<rect x="733.68" y="739.4" width="1.2" height="21.6" fill="#459a81" opacity="0.88"/>
<rect x="731.74" y="744.8" width="5.1" height="8.2" fill="#459a81"/>
<rect x="740.44" y="744.0" width="1.2" height="11.0" fill="#459a81" opacity="0.88"/>
<rect x="738.49" y="748.0" width="5.1" height="4.7" fill="#459a81"/>
<rect x="747.19" y="737.0" width="1.2" height="19.6" fill="#459a81" opacity="0.88"/>
<rect x="745.25" y="746.0" width="5.1" height="10.6" fill="#459a81"/>
<rect x="753.95" y="755.0" width="1.2" height="14.4" fill="#459a81" opacity="0.88"/>
<rect x="752.00" y="765.0" width="5.1" height="4.4" fill="#459a81"/>
<rect x="760.70" y="776.0" width="1.2" height="26.0" fill="#e2494e" opacity="0.88"/>
<rect x="758.75" y="780.8" width="5.1" height="14.0" fill="#e2494e"/>
<rect x="767.46" y="770.6" width="1.2" height="16.0" fill="#459a81" opacity="0.88"/>
<rect x="765.51" y="775.0" width="5.1" height="11.6" fill="#459a81"/>
<rect x="774.21" y="763.6" width="1.2" height="16.4" fill="#e2494e" opacity="0.88"/>
<rect x="772.26" y="764.7" width="5.1" height="6.7" fill="#e2494e"/>
<rect x="780.97" y="761.2" width="1.2" height="11.0" fill="#459a81" opacity="0.88"/>
<rect x="779.02" y="762.8" width="5.1" height="8.6" fill="#459a81"/>
<rect x="787.72" y="764.4" width="1.2" height="7.6" fill="#459a81" opacity="0.88"/>
<rect x="785.77" y="765.0" width="5.1" height="2.5" fill="#459a81"/>
<rect x="794.48" y="745.6" width="1.2" height="21.9" fill="#e2494e" opacity="0.88"/>
<rect x="792.53" y="746.4" width="5.1" height="21.1" fill="#e2494e"/>
<rect x="801.24" y="710.5" width="1.2" height="32.0" fill="#e2494e" opacity="0.88"/>
<rect x="799.29" y="715.6" width="5.1" height="26.9" fill="#e2494e"/>
<rect x="807.99" y="712.8" width="1.2" height="20.0" fill="#459a81" opacity="0.88"/>
<rect x="806.04" y="712.8" width="5.1" height="20.0" fill="#459a81"/>
<rect x="814.75" y="728.4" width="1.2" height="33.6" fill="#459a81" opacity="0.88"/>
<rect x="812.80" y="730.0" width="5.1" height="29.4" fill="#459a81"/>
<rect x="821.50" y="714.8" width="1.2" height="32.1" fill="#e2494e" opacity="0.88"/>
<rect x="819.55" y="723.8" width="5.1" height="23.1" fill="#e2494e"/>
<rect x="828.25" y="723.2" width="1.2" height="17.6" fill="#e2494e" opacity="0.88"/>
<rect x="826.31" y="728.4" width="5.1" height="4.6" fill="#e2494e"/>
<rect x="835.01" y="731.0" width="1.2" height="23.8" fill="#459a81" opacity="0.88"/>
<rect x="833.06" y="733.0" width="5.1" height="13.2" fill="#459a81"/>
<rect x="841.76" y="747.7" width="1.2" height="16.7" fill="#459a81" opacity="0.88"/>
<rect x="839.82" y="747.7" width="5.1" height="16.7" fill="#459a81"/>
<rect x="848.52" y="770.3" width="1.2" height="33.1" fill="#459a81" opacity="0.88"/>
<rect x="846.57" y="771.9" width="5.1" height="25.0" fill="#459a81"/>
<rect x="855.27" y="782.5" width="1.2" height="20.5" fill="#459a81" opacity="0.88"/>
<rect x="853.33" y="785.0" width="5.1" height="13.4" fill="#459a81"/>
<rect x="862.03" y="775.0" width="1.2" height="22.7" fill="#459a81" opacity="0.88"/>
<rect x="860.08" y="784.4" width="5.1" height="7.8" fill="#459a81"/>
<rect x="868.78" y="794.2" width="1.2" height="20.6" fill="#459a81" opacity="0.88"/>
<rect x="866.84" y="797.2" width="5.1" height="1.2" fill="#459a81"/>
<rect x="875.54" y="771.6" width="1.2" height="16.2" fill="#e2494e" opacity="0.88"/>
<rect x="873.59" y="776.9" width="5.1" height="10.9" fill="#e2494e"/>
<rect x="882.29" y="761.7" width="1.2" height="26.6" fill="#459a81" opacity="0.88"/>
<rect x="880.35" y="765.3" width="5.1" height="6.6" fill="#459a81"/>
<rect x="889.05" y="741.4" width="1.2" height="16.1" fill="#e2494e" opacity="0.88"/>
<rect x="887.10" y="744.0" width="5.1" height="13.5" fill="#e2494e"/>
<rect x="895.80" y="725.3" width="1.2" height="16.1" fill="#e2494e" opacity="0.88"/>
<rect x="893.86" y="729.4" width="5.1" height="6.9" fill="#e2494e"/>
<rect x="902.56" y="714.0" width="1.2" height="22.2" fill="#459a81" opacity="0.88"/>
<rect x="900.61" y="724.7" width="5.1" height="7.3" fill="#459a81"/>
<rect x="909.31" y="716.9" width="1.2" height="30.8" fill="#459a81" opacity="0.88"/>
<rect x="907.37" y="721.9" width="5.1" height="25.8" fill="#459a81"/>
<rect x="916.07" y="754.7" width="1.2" height="23.3" fill="#459a81" opacity="0.88"/>
<rect x="914.12" y="754.7" width="5.1" height="17.2" fill="#459a81"/>
<rect x="922.82" y="753.0" width="1.2" height="12.6" fill="#e2494e" opacity="0.88"/>
<rect x="920.88" y="754.4" width="5.1" height="6.9" fill="#e2494e"/>
<rect x="929.58" y="746.0" width="1.2" height="13.0" fill="#e2494e" opacity="0.88"/>
<rect x="927.63" y="749.7" width="5.1" height="9.3" fill="#e2494e"/>
<rect x="936.33" y="741.9" width="1.2" height="10.4" fill="#459a81" opacity="0.88"/>
<rect x="934.38" y="746.2" width="5.1" height="1.2" fill="#459a81"/>
<rect x="943.09" y="775.3" width="1.2" height="23.5" fill="#459a81" opacity="0.88"/>
<rect x="941.14" y="775.3" width="5.1" height="19.7" fill="#459a81"/>
<rect x="949.84" y="765.6" width="1.2" height="25.0" fill="#459a81" opacity="0.88"/>
<rect x="947.89" y="768.8" width="5.1" height="13.2" fill="#459a81"/>
<rect x="956.60" y="767.0" width="1.2" height="19.7" fill="#459a81" opacity="0.88"/>
<rect x="954.65" y="773.4" width="5.1" height="6.6" fill="#459a81"/>
<rect x="963.36" y="764.0" width="1.2" height="13.8" fill="#e2494e" opacity="0.88"/>
<rect x="961.41" y="769.5" width="5.1" height="4.5" fill="#e2494e"/>
<rect x="970.11" y="772.7" width="1.2" height="10.3" fill="#459a81" opacity="0.88"/>
<rect x="968.16" y="777.3" width="5.1" height="5.5" fill="#459a81"/>
<rect x="976.87" y="777.3" width="1.2" height="12.5" fill="#e2494e" opacity="0.88"/>
<rect x="974.92" y="781.6" width="5.1" height="3.4" fill="#e2494e"/>
<rect x="983.62" y="768.0" width="1.2" height="13.2" fill="#459a81" opacity="0.88"/>
<rect x="981.67" y="770.6" width="5.1" height="4.4" fill="#459a81"/>
<rect x="990.38" y="746.6" width="1.2" height="20.9" fill="#e2494e" opacity="0.88"/>
<rect x="988.43" y="752.3" width="5.1" height="11.0" fill="#e2494e"/>
<rect x="997.13" y="748.4" width="1.2" height="18.5" fill="#459a81" opacity="0.88"/>
<rect x="995.18" y="753.9" width="5.1" height="13.0" fill="#459a81"/>
<rect x="1003.88" y="762.0" width="1.2" height="9.6" fill="#e2494e" opacity="0.88"/>
<rect x="1001.94" y="765.3" width="5.1" height="4.2" fill="#e2494e"/>
<rect x="1010.64" y="749.0" width="1.2" height="16.6" fill="#e2494e" opacity="0.88"/>
<rect x="1008.69" y="760.6" width="5.1" height="4.2" fill="#e2494e"/>
<rect x="1017.39" y="759.4" width="1.2" height="12.6" fill="#459a81" opacity="0.88"/>
<rect x="1015.45" y="761.2" width="5.1" height="4.4" fill="#459a81"/>
<rect x="1024.15" y="775.0" width="1.2" height="20.6" fill="#459a81" opacity="0.88"/>
<rect x="1022.20" y="775.0" width="5.1" height="12.8" fill="#459a81"/>
<rect x="1030.91" y="782.0" width="1.2" height="15.0" fill="#e2494e" opacity="0.88"/>
<rect x="1028.96" y="782.0" width="5.1" height="13.3" fill="#e2494e"/>
<rect x="1037.66" y="795.6" width="1.2" height="16.1" fill="#459a81" opacity="0.88"/>
<rect x="1035.71" y="801.9" width="5.1" height="5.9" fill="#459a81"/>
<rect x="1044.41" y="809.4" width="1.2" height="19.6" fill="#459a81" opacity="0.88"/>
<rect x="1042.46" y="810.6" width="5.1" height="1.2" fill="#459a81"/>
<rect x="1051.17" y="800.8" width="1.2" height="13.6" fill="#e2494e" opacity="0.88"/>
<rect x="1049.22" y="806.0" width="5.1" height="1.2" fill="#e2494e"/>
<rect x="1057.93" y="821.0" width="1.2" height="48.5" fill="#459a81" opacity="0.88"/>
<rect x="1055.98" y="823.8" width="5.1" height="31.8" fill="#459a81"/>
<rect x="1064.68" y="825.0" width="1.2" height="20.6" fill="#e2494e" opacity="0.88"/>
<rect x="1062.73" y="827.3" width="5.1" height="7.7" fill="#e2494e"/>
<rect x="1071.44" y="835.6" width="1.2" height="35.4" fill="#459a81" opacity="0.88"/>
<rect x="1069.49" y="837.8" width="5.1" height="10.2" fill="#459a81"/>
<rect x="1078.19" y="835.6" width="1.2" height="17.4" fill="#e2494e" opacity="0.88"/>
<rect x="1076.24" y="844.0" width="5.1" height="3.7" fill="#e2494e"/>
<rect x="1084.95" y="822.7" width="1.2" height="13.3" fill="#e2494e" opacity="0.88"/>
<rect x="1083.00" y="831.6" width="5.1" height="2.4" fill="#e2494e"/>
<rect x="1091.70" y="851.5" width="1.2" height="18.8" fill="#459a81" opacity="0.88"/>
<rect x="1089.75" y="852.8" width="5.1" height="16.0" fill="#459a81"/>
<rect x="1098.46" y="857.5" width="1.2" height="18.3" fill="#e2494e" opacity="0.88"/>
<rect x="1096.51" y="861.2" width="5.1" height="2.5" fill="#e2494e"/>
<rect x="1105.21" y="871.0" width="1.2" height="36.8" fill="#e2494e" opacity="0.88"/>
<rect x="1103.26" y="871.0" width="5.1" height="10.2" fill="#e2494e"/>
<rect x="1111.97" y="864.0" width="1.2" height="12.6" fill="#e2494e" opacity="0.88"/>
<rect x="1110.02" y="870.3" width="5.1" height="3.5" fill="#e2494e"/>
<rect x="1118.72" y="847.2" width="1.2" height="24.7" fill="#459a81" opacity="0.88"/>
<rect x="1116.77" y="858.6" width="5.1" height="13.3" fill="#459a81"/>
<rect x="1125.48" y="855.8" width="1.2" height="24.7" fill="#e2494e" opacity="0.88"/>
<rect x="1123.53" y="859.0" width="5.1" height="21.5" fill="#e2494e"/>
<rect x="1132.23" y="837.2" width="1.2" height="8.4" fill="#459a81" opacity="0.88"/>
<rect x="1130.28" y="841.9" width="5.1" height="3.7" fill="#459a81"/>
<rect x="1138.99" y="818.0" width="1.2" height="7.2" fill="#459a81" opacity="0.88"/>
<rect x="1137.04" y="824.0" width="5.1" height="1.2" fill="#459a81"/>
<rect x="1145.74" y="811.7" width="1.2" height="17.3" fill="#459a81" opacity="0.88"/>
<rect x="1143.79" y="824.7" width="5.1" height="4.3" fill="#459a81"/>
<rect x="1152.50" y="819.0" width="1.2" height="16.0" fill="#e2494e" opacity="0.88"/>
<rect x="1150.55" y="832.0" width="5.1" height="3.0" fill="#e2494e"/>
<rect x="1159.25" y="825.0" width="1.2" height="9.7" fill="#459a81" opacity="0.88"/>
<rect x="1157.30" y="825.0" width="5.1" height="9.7" fill="#459a81"/>
<rect x="1166.01" y="811.2" width="1.2" height="16.8" fill="#459a81" opacity="0.88"/>
<rect x="1164.06" y="819.0" width="5.1" height="9.0" fill="#459a81"/>
<rect x="1172.76" y="807.0" width="1.2" height="15.7" fill="#459a81" opacity="0.88"/>
<rect x="1170.81" y="812.8" width="5.1" height="4.1" fill="#459a81"/>
<rect x="1179.52" y="823.0" width="1.2" height="14.5" fill="#e2494e" opacity="0.88"/>
<rect x="1177.57" y="826.6" width="5.1" height="2.4" fill="#e2494e"/>
<rect x="1186.27" y="846.0" width="1.2" height="22.8" fill="#459a81" opacity="0.88"/>
<rect x="1184.32" y="846.0" width="5.1" height="12.0" fill="#459a81"/>
<rect x="1193.03" y="887.0" width="1.2" height="40.0" fill="#459a81" opacity="0.88"/>
<rect x="1191.08" y="887.0" width="5.1" height="38.0" fill="#459a81"/>
<rect x="1199.78" y="904.4" width="1.2" height="23.1" fill="#459a81" opacity="0.88"/>
<rect x="1197.83" y="909.4" width="5.1" height="15.1" fill="#459a81"/>
<rect x="1206.54" y="917.4" width="1.2" height="15.1" fill="#459a81" opacity="0.88"/>
<rect x="1204.59" y="918.0" width="5.1" height="1.5" fill="#459a81"/>
<rect x="1213.29" y="950.5" width="1.2" height="41.5" fill="#459a81" opacity="0.88"/>
<rect x="1211.34" y="950.5" width="5.1" height="13.9" fill="#459a81"/>
<rect x="1220.05" y="983.0" width="1.2" height="45.9" fill="#459a81" opacity="0.88"/>
<rect x="1218.10" y="983.0" width="5.1" height="24.7" fill="#459a81"/>
<rect x="1226.80" y="1035.0" width="1.2" height="106.0" fill="#459a81" opacity="0.88"/>
<rect x="1224.85" y="1035.0" width="5.1" height="90.9" fill="#459a81"/>
<rect x="1233.56" y="1030.0" width="1.2" height="69.2" fill="#e2494e" opacity="0.88"/>
<rect x="1231.61" y="1041.4" width="5.1" height="57.8" fill="#e2494e"/>
<rect x="1240.31" y="1061.3" width="1.2" height="58.5" fill="#459a81" opacity="0.88"/>
<rect x="1238.36" y="1063.0" width="5.1" height="37.3" fill="#459a81"/>
<rect x="1247.07" y="969.3" width="1.2" height="103.3" fill="#e2494e" opacity="0.88"/>
<rect x="1245.12" y="969.3" width="5.1" height="103.3" fill="#e2494e"/>
<rect x="1253.82" y="999.0" width="1.2" height="59.0" fill="#459a81" opacity="0.88"/>
<rect x="1251.87" y="999.0" width="5.1" height="16.4" fill="#459a81"/>
<rect x="1260.58" y="982.3" width="1.2" height="18.7" fill="#459a81" opacity="0.88"/>
<rect x="1258.62" y="997.3" width="5.1" height="1.2" fill="#459a81"/>
<rect x="1267.33" y="975.8" width="1.2" height="9.8" fill="#459a81" opacity="0.88"/>
<rect x="1265.38" y="981.7" width="5.1" height="3.9" fill="#459a81"/>
<rect x="1274.09" y="982.3" width="1.2" height="30.3" fill="#459a81" opacity="0.88"/>
<rect x="1272.13" y="986.0" width="5.1" height="15.0" fill="#459a81"/>
<rect x="1280.84" y="979.5" width="1.2" height="19.1" fill="#e2494e" opacity="0.88"/>
<rect x="1278.89" y="979.5" width="5.1" height="19.1" fill="#e2494e"/>
<rect x="1287.60" y="963.9" width="1.2" height="18.4" fill="#e2494e" opacity="0.88"/>
<rect x="1285.64" y="963.9" width="5.1" height="18.4" fill="#e2494e"/>
<rect x="1294.35" y="969.3" width="1.2" height="17.4" fill="#459a81" opacity="0.88"/>
<rect x="1292.40" y="972.0" width="5.1" height="12.5" fill="#459a81"/>
<rect x="1301.11" y="981.7" width="1.2" height="10.3" fill="#e2494e" opacity="0.88"/>
<rect x="1299.15" y="987.3" width="5.1" height="4.7" fill="#e2494e"/>
<rect x="1307.86" y="946.0" width="1.2" height="19.6" fill="#e2494e" opacity="0.88"/>
<rect x="1305.91" y="957.9" width="5.1" height="3.9" fill="#e2494e"/>
<rect x="1314.62" y="939.0" width="1.2" height="11.9" fill="#459a81" opacity="0.88"/>
<rect x="1312.66" y="942.7" width="5.1" height="8.2" fill="#459a81"/>
<rect x="1321.37" y="914.6" width="1.2" height="21.2" fill="#e2494e" opacity="0.88"/>
<rect x="1319.42" y="920.0" width="5.1" height="15.8" fill="#e2494e"/>
<rect x="1328.12" y="903.3" width="1.2" height="13.4" fill="#459a81" opacity="0.88"/>
<rect x="1326.17" y="909.4" width="5.1" height="5.8" fill="#459a81"/>
<rect x="1334.88" y="903.0" width="1.2" height="13.3" fill="#e2494e" opacity="0.88"/>
<rect x="1332.93" y="905.0" width="5.1" height="5.9" fill="#e2494e"/>
<rect x="1341.63" y="881.6" width="1.2" height="23.9" fill="#e2494e" opacity="0.88"/>
<rect x="1339.68" y="887.3" width="5.1" height="11.4" fill="#e2494e"/>
<rect x="1348.39" y="863.2" width="1.2" height="16.4" fill="#e2494e" opacity="0.88"/>
<rect x="1346.44" y="869.0" width="5.1" height="10.6" fill="#e2494e"/>
<rect x="1355.14" y="864.8" width="1.2" height="8.7" fill="#459a81" opacity="0.88"/>
<rect x="1353.19" y="866.7" width="5.1" height="6.1" fill="#459a81"/>
<rect x="1361.90" y="863.2" width="1.2" height="16.3" fill="#e2494e" opacity="0.88"/>
<rect x="1359.95" y="866.2" width="5.1" height="3.1" fill="#e2494e"/>
<rect x="1368.65" y="837.0" width="1.2" height="14.9" fill="#e2494e" opacity="0.88"/>
<rect x="1366.70" y="839.4" width="5.1" height="8.6" fill="#e2494e"/>
<rect x="1375.41" y="830.0" width="1.2" height="13.8" fill="#459a81" opacity="0.88"/>
<rect x="1373.46" y="831.2" width="5.1" height="2.8" fill="#459a81"/>
<rect x="1382.16" y="795.3" width="1.2" height="16.4" fill="#e2494e" opacity="0.88"/>
<rect x="1380.21" y="809.0" width="5.1" height="2.7" fill="#e2494e"/>
<rect x="1388.92" y="802.3" width="1.2" height="21.5" fill="#459a81" opacity="0.88"/>
<rect x="1386.97" y="808.0" width="5.1" height="4.5" fill="#459a81"/>
<rect x="1395.68" y="822.7" width="1.2" height="10.3" fill="#459a81" opacity="0.88"/>
<rect x="1393.73" y="823.8" width="5.1" height="5.2" fill="#459a81"/>
<rect x="1402.43" y="826.9" width="1.2" height="14.1" fill="#e2494e" opacity="0.88"/>
<rect x="1400.48" y="828.0" width="5.1" height="1.2" fill="#e2494e"/>
<rect x="1409.19" y="832.5" width="1.2" height="9.4" fill="#459a81" opacity="0.88"/>
<rect x="1407.24" y="836.2" width="5.1" height="4.4" fill="#459a81"/>
<rect x="1415.94" y="828.4" width="1.2" height="13.5" fill="#459a81" opacity="0.88"/>
<rect x="1413.99" y="829.7" width="5.1" height="9.3" fill="#459a81"/>
<rect x="1422.70" y="835.6" width="1.2" height="13.1" fill="#459a81" opacity="0.88"/>
<rect x="1420.75" y="835.6" width="5.1" height="13.1" fill="#459a81"/>
<rect x="1429.45" y="857.8" width="1.2" height="10.6" fill="#e2494e" opacity="0.88"/>
<rect x="1427.50" y="863.3" width="5.1" height="2.7" fill="#e2494e"/>
<rect x="1436.21" y="845.3" width="1.2" height="11.7" fill="#459a81" opacity="0.88"/>
<rect x="1434.26" y="846.9" width="5.1" height="5.4" fill="#459a81"/>
<rect x="1442.96" y="838.3" width="1.2" height="16.7" fill="#e2494e" opacity="0.88"/>
<rect x="1441.01" y="838.3" width="5.1" height="15.6" fill="#e2494e"/>
<rect x="1449.72" y="827.3" width="1.2" height="17.2" fill="#e2494e" opacity="0.88"/>
<rect x="1447.77" y="830.0" width="5.1" height="9.0" fill="#e2494e"/>
<rect x="1456.47" y="809.4" width="1.2" height="21.6" fill="#459a81" opacity="0.88"/>
<rect x="1454.52" y="812.8" width="5.1" height="18.2" fill="#459a81"/>
<rect x="1463.23" y="797.2" width="1.2" height="18.8" fill="#e2494e" opacity="0.88"/>
<rect x="1461.28" y="798.0" width="5.1" height="18.0" fill="#e2494e"/>
<rect x="1469.98" y="812.0" width="1.2" height="17.4" fill="#e2494e" opacity="0.88"/>
<rect x="1468.03" y="819.0" width="5.1" height="2.9" fill="#e2494e"/>
<rect x="1476.74" y="833.0" width="1.2" height="15.4" fill="#459a81" opacity="0.88"/>
<rect x="1474.79" y="833.0" width="5.1" height="9.0" fill="#459a81"/>
<rect x="1483.49" y="829.7" width="1.2" height="12.8" fill="#459a81" opacity="0.88"/>
<rect x="1481.54" y="836.0" width="5.1" height="6.5" fill="#459a81"/>
<rect x="1490.25" y="823.4" width="1.2" height="8.6" fill="#e2494e" opacity="0.88"/>
<rect x="1488.30" y="829.4" width="5.1" height="2.2" fill="#e2494e"/>
<rect x="1497.00" y="829.4" width="1.2" height="8.1" fill="#459a81" opacity="0.88"/>
<rect x="1495.05" y="834.4" width="5.1" height="1.2" fill="#459a81"/>
<rect x="1503.76" y="828.1" width="1.2" height="8.1" fill="#e2494e" opacity="0.88"/>
<rect x="1501.81" y="829.0" width="5.1" height="7.2" fill="#e2494e"/>
<rect x="1510.51" y="809.0" width="1.2" height="7.9" fill="#e2494e" opacity="0.88"/>
<rect x="1508.56" y="813.8" width="5.1" height="3.1" fill="#e2494e"/>
<rect x="1517.27" y="795.6" width="1.2" height="15.4" fill="#459a81" opacity="0.88"/>
<rect x="1515.32" y="805.0" width="5.1" height="4.0" fill="#459a81"/>
<rect x="1524.02" y="793.4" width="1.2" height="10.6" fill="#459a81" opacity="0.88"/>
<rect x="1522.07" y="797.7" width="5.1" height="1.2" fill="#459a81"/>
<rect x="1530.78" y="798.4" width="1.2" height="12.9" fill="#459a81" opacity="0.88"/>
<rect x="1528.83" y="802.3" width="5.1" height="9.0" fill="#459a81"/>
<rect x="1537.53" y="811.2" width="1.2" height="26.2" fill="#459a81" opacity="0.88"/>
<rect x="1535.58" y="811.2" width="5.1" height="13.8" fill="#459a81"/>
<rect x="1544.29" y="801.2" width="1.2" height="14.0" fill="#e2494e" opacity="0.88"/>
<rect x="1542.34" y="803.4" width="5.1" height="11.9" fill="#e2494e"/>
<rect x="1551.04" y="791.4" width="1.2" height="10.2" fill="#e2494e" opacity="0.88"/>
<rect x="1549.09" y="793.0" width="5.1" height="8.6" fill="#e2494e"/>
<rect x="1557.80" y="778.0" width="1.2" height="23.2" fill="#e2494e" opacity="0.88"/>
<rect x="1555.85" y="778.0" width="5.1" height="23.2" fill="#e2494e"/>
<rect x="1564.55" y="779.0" width="1.2" height="17.0" fill="#459a81" opacity="0.88"/>
<rect x="1562.60" y="779.0" width="5.1" height="17.0" fill="#459a81"/>
<rect x="1571.31" y="788.8" width="1.2" height="11.2" fill="#459a81" opacity="0.88"/>
<rect x="1569.36" y="793.8" width="5.1" height="6.2" fill="#459a81"/>
<rect x="1578.06" y="801.6" width="1.2" height="14.8" fill="#e2494e" opacity="0.88"/>
<rect x="1576.11" y="801.6" width="5.1" height="4.4" fill="#e2494e"/>
<rect x="1584.82" y="773.0" width="1.2" height="14.5" fill="#e2494e" opacity="0.88"/>
<rect x="1582.87" y="781.0" width="5.1" height="1.2" fill="#e2494e"/>
<rect x="1591.57" y="775.3" width="1.2" height="9.4" fill="#e2494e" opacity="0.88"/>
<rect x="1589.62" y="775.3" width="5.1" height="2.2" fill="#e2494e"/>
<rect x="1598.33" y="744.5" width="1.2" height="25.8" fill="#e2494e" opacity="0.88"/>
<rect x="1596.38" y="746.0" width="5.1" height="24.3" fill="#e2494e"/>
<rect x="1605.08" y="715.6" width="1.2" height="20.6" fill="#e2494e" opacity="0.88"/>
<rect x="1603.13" y="721.0" width="5.1" height="15.2" fill="#e2494e"/>
<rect x="1611.84" y="699.0" width="1.2" height="13.5" fill="#459a81" opacity="0.88"/>
<rect x="1609.88" y="702.3" width="5.1" height="4.0" fill="#459a81"/>
<rect x="1618.59" y="712.8" width="1.2" height="20.8" fill="#459a81" opacity="0.88"/>
<rect x="1616.64" y="712.8" width="5.1" height="16.2" fill="#459a81"/>
<rect x="1625.35" y="730.5" width="1.2" height="21.1" fill="#e2494e" opacity="0.88"/>
<rect x="1623.39" y="738.3" width="5.1" height="6.7" fill="#e2494e"/>
<rect x="1632.10" y="733.6" width="1.2" height="8.4" fill="#459a81" opacity="0.88"/>
<rect x="1630.15" y="737.2" width="5.1" height="1.2" fill="#459a81"/>
<rect x="1638.86" y="728.0" width="1.2" height="12.6" fill="#459a81" opacity="0.88"/>
<rect x="1636.90" y="728.0" width="5.1" height="9.5" fill="#459a81"/>
<rect x="1645.61" y="736.2" width="1.2" height="12.5" fill="#459a81" opacity="0.88"/>
<rect x="1643.66" y="739.0" width="5.1" height="7.6" fill="#459a81"/>
<rect x="1652.37" y="737.5" width="1.2" height="11.2" fill="#e2494e" opacity="0.88"/>
<rect x="1650.41" y="741.9" width="5.1" height="6.9" fill="#e2494e"/>
<rect x="1659.12" y="729.4" width="1.2" height="16.2" fill="#459a81" opacity="0.88"/>
<rect x="1657.17" y="730.5" width="5.1" height="5.8" fill="#459a81"/>
<rect x="1665.88" y="736.0" width="1.2" height="11.7" fill="#459a81" opacity="0.88"/>
<rect x="1663.92" y="737.0" width="5.1" height="7.0" fill="#459a81"/>
<rect x="1672.63" y="729.4" width="1.2" height="20.3" fill="#459a81" opacity="0.88"/>
<rect x="1670.68" y="732.8" width="5.1" height="14.2" fill="#459a81"/>
<rect x="1679.38" y="745.3" width="1.2" height="13.7" fill="#e2494e" opacity="0.88"/>
<rect x="1677.43" y="752.8" width="5.1" height="1.2" fill="#e2494e"/>
<rect x="1686.14" y="742.5" width="1.2" height="13.0" fill="#e2494e" opacity="0.88"/>
<rect x="1684.19" y="742.5" width="5.1" height="6.2" fill="#e2494e"/>
<rect x="1692.89" y="731.2" width="1.2" height="17.5" fill="#459a81" opacity="0.88"/>
<rect x="1690.94" y="739.4" width="5.1" height="5.1" fill="#459a81"/>
<rect x="1699.65" y="732.5" width="1.2" height="23.1" fill="#e2494e" opacity="0.88"/>
<rect x="1697.70" y="732.5" width="5.1" height="19.5" fill="#e2494e"/>
<rect x="1706.40" y="723.0" width="1.2" height="16.0" fill="#459a81" opacity="0.88"/>
<rect x="1704.45" y="724.7" width="5.1" height="11.0" fill="#459a81"/>
<rect x="1713.16" y="715.4" width="1.2" height="29.9" fill="#459a81" opacity="0.88"/>
<rect x="1711.21" y="734.0" width="5.1" height="4.2" fill="#459a81"/>
<rect x="1719.91" y="667.4" width="1.2" height="56.2" fill="#e2494e" opacity="0.88"/>
<rect x="1717.96" y="675.3" width="5.1" height="44.4" fill="#e2494e"/>
<rect x="1726.67" y="635.3" width="1.2" height="22.4" fill="#e2494e" opacity="0.88"/>
<rect x="1724.72" y="646.0" width="5.1" height="7.7" fill="#e2494e"/>
<rect x="1733.42" y="647.9" width="1.2" height="16.6" fill="#459a81" opacity="0.88"/>
<rect x="1731.47" y="647.9" width="5.1" height="14.9" fill="#459a81"/>
<rect x="1740.18" y="659.4" width="1.2" height="23.2" fill="#459a81" opacity="0.88"/>
<rect x="1738.23" y="659.4" width="5.1" height="23.2" fill="#459a81"/>
<rect x="1746.94" y="691.0" width="1.2" height="11.3" fill="#459a81" opacity="0.88"/>
<rect x="1744.99" y="693.2" width="5.1" height="4.8" fill="#459a81"/>
<rect x="1753.69" y="693.7" width="1.2" height="8.6" fill="#459a81" opacity="0.88"/>
<rect x="1751.74" y="694.6" width="5.1" height="3.8" fill="#459a81"/>
<rect x="1760.45" y="677.0" width="1.2" height="21.7" fill="#e2494e" opacity="0.88"/>
<rect x="1758.50" y="679.0" width="5.1" height="18.0" fill="#e2494e"/>
<rect x="1767.20" y="679.0" width="1.2" height="21.6" fill="#459a81" opacity="0.88"/>
<rect x="1765.25" y="680.8" width="5.1" height="11.2" fill="#459a81"/>
<rect x="1773.96" y="711.8" width="1.2" height="23.2" fill="#e2494e" opacity="0.88"/>
<rect x="1772.01" y="713.8" width="5.1" height="8.6" fill="#e2494e"/>
<rect x="1780.71" y="698.0" width="1.2" height="10.7" fill="#e2494e" opacity="0.88"/>
<rect x="1778.76" y="702.3" width="5.1" height="2.9" fill="#e2494e"/>
<rect x="1787.47" y="689.4" width="1.2" height="19.3" fill="#e2494e" opacity="0.88"/>
<rect x="1785.52" y="691.5" width="5.1" height="17.2" fill="#e2494e"/>
<rect x="1794.22" y="675.3" width="1.2" height="23.1" fill="#e2494e" opacity="0.88"/>
<rect x="1792.27" y="679.5" width="5.1" height="18.9" fill="#e2494e"/>
<rect x="1800.98" y="636.5" width="1.2" height="34.0" fill="#e2494e" opacity="0.88"/>
<rect x="1799.03" y="646.0" width="5.1" height="24.5" fill="#e2494e"/>
<rect x="1807.73" y="592.4" width="1.2" height="42.1" fill="#e2494e" opacity="0.88"/>
<rect x="1805.78" y="605.3" width="5.1" height="29.2" fill="#e2494e"/>
<rect x="1814.49" y="571.8" width="1.2" height="19.7" fill="#e2494e" opacity="0.88"/>
<rect x="1812.54" y="580.4" width="5.1" height="9.4" fill="#e2494e"/>
<rect x="1821.24" y="583.8" width="1.2" height="26.2" fill="#459a81" opacity="0.88"/>
<rect x="1819.29" y="586.7" width="5.1" height="23.3" fill="#459a81"/>
<rect x="1828.00" y="575.7" width="1.2" height="28.2" fill="#e2494e" opacity="0.88"/>
<rect x="1826.05" y="575.7" width="5.1" height="24.1" fill="#e2494e"/>
<rect x="1834.75" y="555.8" width="1.2" height="18.9" fill="#e2494e" opacity="0.88"/>
<rect x="1832.80" y="561.0" width="5.1" height="12.0" fill="#e2494e"/>
<rect x="1841.51" y="554.0" width="1.2" height="20.0" fill="#459a81" opacity="0.88"/>
<rect x="1839.56" y="555.0" width="5.1" height="14.5" fill="#459a81"/>
<rect x="1848.26" y="574.7" width="1.2" height="30.6" fill="#459a81" opacity="0.88"/>
<rect x="1846.31" y="574.7" width="5.1" height="24.0" fill="#459a81"/>
<rect x="1855.02" y="595.8" width="1.2" height="17.2" fill="#459a81" opacity="0.88"/>
<rect x="1853.07" y="602.7" width="5.1" height="9.1" fill="#459a81"/>
<rect x="1861.77" y="605.3" width="1.2" height="17.5" fill="#e2494e" opacity="0.88"/>
<rect x="1859.82" y="609.0" width="5.1" height="1.2" fill="#e2494e"/>
<rect x="1868.53" y="584.3" width="1.2" height="22.7" fill="#459a81" opacity="0.88"/>
<rect x="1866.58" y="594.6" width="5.1" height="8.1" fill="#459a81"/>
<rect x="1875.28" y="609.6" width="1.2" height="22.3" fill="#459a81" opacity="0.88"/>
<rect x="1873.33" y="609.6" width="5.1" height="10.8" fill="#459a81"/>
<rect x="1882.04" y="610.4" width="1.2" height="15.1" fill="#e2494e" opacity="0.88"/>
<rect x="1880.09" y="614.2" width="5.1" height="2.8" fill="#e2494e"/>
<rect x="1888.79" y="601.0" width="1.2" height="23.5" fill="#e2494e" opacity="0.88"/>
<rect x="1886.84" y="601.0" width="5.1" height="23.5" fill="#e2494e"/>
<rect x="1895.55" y="601.5" width="1.2" height="5.8" fill="#459a81" opacity="0.88"/>
<rect x="1893.60" y="603.5" width="5.1" height="2.5" fill="#459a81"/>
<rect x="1902.30" y="617.3" width="1.2" height="27.5" fill="#459a81" opacity="0.88"/>
<rect x="1900.35" y="622.0" width="5.1" height="7.7" fill="#459a81"/>
<rect x="1909.06" y="616.4" width="1.2" height="17.2" fill="#e2494e" opacity="0.88"/>
<rect x="1907.11" y="623.3" width="5.1" height="1.7" fill="#e2494e"/>
<rect x="1915.81" y="625.0" width="1.2" height="18.4" fill="#459a81" opacity="0.88"/>
<rect x="1913.86" y="633.6" width="5.1" height="7.4" fill="#459a81"/>
<rect x="1922.57" y="610.4" width="1.2" height="24.4" fill="#e2494e" opacity="0.88"/>
<rect x="1920.62" y="611.8" width="5.1" height="23.0" fill="#e2494e"/>
<rect x="1929.32" y="583.3" width="1.2" height="19.4" fill="#e2494e" opacity="0.88"/>
<rect x="1927.37" y="592.4" width="5.1" height="1.6" fill="#e2494e"/>
<rect x="1936.08" y="555.5" width="1.2" height="22.3" fill="#e2494e" opacity="0.88"/>
<rect x="1934.12" y="564.0" width="5.1" height="9.5" fill="#e2494e"/>
<rect x="1942.83" y="539.2" width="1.2" height="33.8" fill="#459a81" opacity="0.88"/>
<rect x="1940.88" y="552.0" width="5.1" height="21.0" fill="#459a81"/>
<rect x="1949.59" y="555.3" width="1.2" height="15.3" fill="#e2494e" opacity="0.88"/>
<rect x="1947.63" y="555.3" width="5.1" height="15.3" fill="#e2494e"/>
<rect x="1956.34" y="531.0" width="1.2" height="23.7" fill="#e2494e" opacity="0.88"/>
<rect x="1954.39" y="531.0" width="5.1" height="23.7" fill="#e2494e"/>
<rect x="1963.10" y="508.0" width="1.2" height="15.8" fill="#459a81" opacity="0.88"/>
<rect x="1961.14" y="512.3" width="5.1" height="1.5" fill="#459a81"/>
<rect x="1969.85" y="500.6" width="1.2" height="18.0" fill="#459a81" opacity="0.88"/>
<rect x="1967.90" y="505.2" width="5.1" height="2.8" fill="#459a81"/>
<rect x="1976.61" y="501.5" width="1.2" height="18.5" fill="#e2494e" opacity="0.88"/>
<rect x="1974.65" y="513.5" width="5.1" height="1.7" fill="#e2494e"/>
<rect x="1983.36" y="480.5" width="1.2" height="31.3" fill="#e2494e" opacity="0.88"/>
<rect x="1981.41" y="489.8" width="5.1" height="18.2" fill="#e2494e"/>
<rect x="1990.12" y="465.0" width="1.2" height="60.5" fill="#459a81" opacity="0.88"/>
<rect x="1988.16" y="475.3" width="5.1" height="26.2" fill="#459a81"/>
<rect x="1996.87" y="469.2" width="1.2" height="26.2" fill="#e2494e" opacity="0.88"/>
<rect x="1994.92" y="480.8" width="5.1" height="14.6" fill="#e2494e"/>
<rect x="2003.62" y="472.2" width="1.2" height="21.9" fill="#e2494e" opacity="0.88"/>
<rect x="2001.67" y="475.3" width="5.1" height="6.9" fill="#e2494e"/>
<rect x="2010.38" y="465.7" width="1.2" height="15.1" fill="#e2494e" opacity="0.88"/>
<rect x="2008.43" y="469.7" width="5.1" height="6.8" fill="#e2494e"/>
<rect x="2017.13" y="468.5" width="1.2" height="19.2" fill="#459a81" opacity="0.88"/>
<rect x="2015.18" y="475.3" width="5.1" height="12.4" fill="#459a81"/>
<rect x="2023.89" y="497.0" width="1.2" height="11.0" fill="#459a81" opacity="0.88"/>
<rect x="2021.94" y="498.4" width="5.1" height="3.1" fill="#459a81"/>
<rect x="2030.64" y="497.0" width="1.2" height="18.5" fill="#459a81" opacity="0.88"/>
<rect x="2028.69" y="501.0" width="5.1" height="6.0" fill="#459a81"/>
<rect x="2037.40" y="509.0" width="1.2" height="21.6" fill="#459a81" opacity="0.88"/>
<rect x="2035.45" y="510.4" width="5.1" height="14.2" fill="#459a81"/>
<rect x="2044.15" y="497.0" width="1.2" height="19.6" fill="#e2494e" opacity="0.88"/>
<rect x="2042.20" y="505.8" width="5.1" height="10.9" fill="#e2494e"/>
<rect x="2050.91" y="467.4" width="1.2" height="34.9" fill="#e2494e" opacity="0.88"/>
<rect x="2048.96" y="468.8" width="5.1" height="33.5" fill="#e2494e"/>
<rect x="2057.66" y="361.5" width="1.2" height="69.5" fill="#e2494e" opacity="0.88"/>
<rect x="2055.71" y="370.0" width="5.1" height="61.0" fill="#e2494e"/>
<rect x="2064.42" y="345.0" width="1.2" height="26.3" fill="#459a81" opacity="0.88"/>
<rect x="2062.47" y="355.8" width="5.1" height="15.5" fill="#459a81"/>
<rect x="2071.18" y="360.3" width="1.2" height="20.9" fill="#459a81" opacity="0.88"/>
<rect x="2069.22" y="371.3" width="5.1" height="9.9" fill="#459a81"/>
<rect x="2077.93" y="342.0" width="1.2" height="25.8" fill="#e2494e" opacity="0.88"/>
<rect x="2075.98" y="342.0" width="5.1" height="25.8" fill="#e2494e"/>
<rect x="2084.68" y="346.0" width="1.2" height="24.0" fill="#459a81" opacity="0.88"/>
<rect x="2082.73" y="346.0" width="5.1" height="19.0" fill="#459a81"/>
<rect x="2091.44" y="377.0" width="1.2" height="56.6" fill="#459a81" opacity="0.88"/>
<rect x="2089.49" y="393.6" width="5.1" height="27.1" fill="#459a81"/>
<rect x="2098.20" y="379.2" width="1.2" height="38.1" fill="#e2494e" opacity="0.88"/>
<rect x="2096.24" y="383.0" width="5.1" height="31.2" fill="#e2494e"/>
<rect x="2104.95" y="354.0" width="1.2" height="17.0" fill="#e2494e" opacity="0.88"/>
<rect x="2103.00" y="355.8" width="5.1" height="9.2" fill="#e2494e"/>
<rect x="2111.70" y="362.3" width="1.2" height="28.4" fill="#459a81" opacity="0.88"/>
<rect x="2109.75" y="377.0" width="5.1" height="13.7" fill="#459a81"/>
<rect x="2118.46" y="315.5" width="1.2" height="41.3" fill="#e2494e" opacity="0.88"/>
<rect x="2116.51" y="315.5" width="5.1" height="38.3" fill="#e2494e"/>
<rect x="2125.22" y="281.7" width="1.2" height="36.1" fill="#459a81" opacity="0.88"/>
<rect x="2123.26" y="293.2" width="5.1" height="16.5" fill="#459a81"/>
<rect x="2131.97" y="302.8" width="1.2" height="38.2" fill="#e2494e" opacity="0.88"/>
<rect x="2130.02" y="310.0" width="5.1" height="3.5" fill="#e2494e"/>
<rect x="2138.72" y="329.0" width="1.2" height="21.4" fill="#459a81" opacity="0.88"/>
<rect x="2136.77" y="329.0" width="5.1" height="11.0" fill="#459a81"/>
<rect x="2145.48" y="304.5" width="1.2" height="21.0" fill="#e2494e" opacity="0.88"/>
<rect x="2143.53" y="310.0" width="5.1" height="10.0" fill="#e2494e"/>
<rect x="2152.24" y="253.7" width="1.2" height="32.6" fill="#e2494e" opacity="0.88"/>
<rect x="2150.28" y="256.0" width="5.1" height="28.3" fill="#e2494e"/>
<rect x="2158.99" y="257.0" width="1.2" height="17.0" fill="#459a81" opacity="0.88"/>
<rect x="2157.04" y="262.3" width="5.1" height="7.4" fill="#459a81"/>
<rect x="2165.74" y="215.2" width="1.2" height="47.1" fill="#e2494e" opacity="0.88"/>
<rect x="2163.79" y="219.9" width="5.1" height="39.5" fill="#e2494e"/>
<rect x="2172.50" y="204.4" width="1.2" height="30.4" fill="#e2494e" opacity="0.88"/>
<rect x="2170.55" y="219.0" width="5.1" height="9.0" fill="#e2494e"/>
<rect x="2179.26" y="170.6" width="1.2" height="35.5" fill="#e2494e" opacity="0.88"/>
<rect x="2177.30" y="170.6" width="5.1" height="35.5" fill="#e2494e"/>
<rect x="2186.01" y="160.3" width="1.2" height="52.7" fill="#459a81" opacity="0.88"/>
<rect x="2184.06" y="176.0" width="5.1" height="37.0" fill="#459a81"/>
<rect x="2192.76" y="214.2" width="1.2" height="105.8" fill="#459a81" opacity="0.88"/>
<rect x="2190.81" y="221.0" width="5.1" height="49.5" fill="#459a81"/>
<rect x="2199.52" y="224.2" width="1.2" height="27.8" fill="#e2494e" opacity="0.88"/>
<rect x="2197.57" y="239.3" width="5.1" height="4.7" fill="#e2494e"/>
<rect x="2206.28" y="249.0" width="1.2" height="45.6" fill="#459a81" opacity="0.88"/>
<rect x="2204.32" y="255.0" width="5.1" height="11.8" fill="#459a81"/>
<rect x="2213.03" y="234.8" width="1.2" height="26.8" fill="#e2494e" opacity="0.88"/>
<rect x="2211.08" y="237.6" width="5.1" height="12.7" fill="#e2494e"/>
<rect x="2219.78" y="211.1" width="1.2" height="41.8" fill="#459a81" opacity="0.88"/>
<rect x="2217.83" y="220.0" width="5.1" height="21.3" fill="#459a81"/>
</g>
<path d="M368.5 701.4H384.29999999999995V716H391.2L376.4 733.5L361.59999999999997 716H368.5Z" fill="#f0a037"/>
<path d="M564.6 712H580.4V726.6H587.3L572.5 743.3L557.7 726.6H564.6Z" fill="#fbe754"/>
<path d="M133.4 1135.5L148.20000000000002 1152.9H141.3V1167.4H125.5V1152.9H118.60000000000001Z" fill="#e2494e"/>
<path d="M1774.7 737.5L1789.5 753.8H1782.6000000000001V767.6H1766.8V753.8H1759.9Z" fill="#e2494e"/>
</g>
</svg>
<div id="txt">
<div class="t" style="left:2449.3px;top:1255.7px;font-size:18.5px;color:#aeb1ba;font-weight:normal;letter-spacing:0.6px;">28,000.00</div>
<div class="t" style="left:2449.3px;top:1211.7px;font-size:18.5px;color:#aeb1ba;font-weight:normal;letter-spacing:0.6px;">29,000.00</div>
<div class="t" style="left:2449.3px;top:1166.7px;font-size:18.5px;color:#aeb1ba;font-weight:normal;letter-spacing:0.6px;">30,000.00</div>
<div class="t" style="left:2449.3px;top:1121.7px;font-size:18.5px;color:#aeb1ba;font-weight:normal;letter-spacing:0.6px;">31,000.00</div>
<div class="t" style="left:2449.3px;top:1076.7px;font-size:18.5px;color:#aeb1ba;font-weight:normal;letter-spacing:0.6px;">32,000.00</div>
<div class="t" style="left:2449.3px;top:1031.7px;font-size:18.5px;color:#aeb1ba;font-weight:normal;letter-spacing:0.6px;">33,000.00</div>
<div class="t" style="left:2449.3px;top:986.7px;font-size:18.5px;color:#aeb1ba;font-weight:normal;letter-spacing:0.6px;">34,000.00</div>
<div class="t" style="left:2449.3px;top:941.7px;font-size:18.5px;color:#aeb1ba;font-weight:normal;letter-spacing:0.6px;">35,000.00</div>
<div class="t" style="left:2449.3px;top:896.7px;font-size:18.5px;color:#aeb1ba;font-weight:normal;letter-spacing:0.6px;">36,000.00</div>
<div class="t" style="left:2449.3px;top:851.7px;font-size:18.5px;color:#aeb1ba;font-weight:normal;letter-spacing:0.6px;">37,000.00</div>
<div class="t" style="left:2449.3px;top:807.7px;font-size:18.5px;color:#aeb1ba;font-weight:normal;letter-spacing:0.6px;">38,000.00</div>
<div class="t" style="left:2449.3px;top:762.7px;font-size:18.5px;color:#aeb1ba;font-weight:normal;letter-spacing:0.6px;">39,000.00</div>
<div class="t" style="left:2449.3px;top:717.7px;font-size:18.5px;color:#aeb1ba;font-weight:normal;letter-spacing:0.6px;">40,000.00</div>
<div class="t" style="left:2449.3px;top:672.7px;font-size:18.5px;color:#aeb1ba;font-weight:normal;letter-spacing:0.6px;">41,000.00</div>
<div class="t" style="left:2449.3px;top:627.7px;font-size:18.5px;color:#aeb1ba;font-weight:normal;letter-spacing:0.6px;">42,000.00</div>
<div class="t" style="left:2449.3px;top:582.7px;font-size:18.5px;color:#aeb1ba;font-weight:normal;letter-spacing:0.6px;">43,000.00</div>
<div class="t" style="left:2449.3px;top:537.7px;font-size:18.5px;color:#aeb1ba;font-weight:normal;letter-spacing:0.6px;">44,000.00</div>
<div class="t" style="left:2449.3px;top:492.7px;font-size:18.5px;color:#aeb1ba;font-weight:normal;letter-spacing:0.6px;">45,000.00</div>
<div class="t" style="left:2449.3px;top:448.7px;font-size:18.5px;color:#aeb1ba;font-weight:normal;letter-spacing:0.6px;">46,000.00</div>
<div class="t" style="left:2449.3px;top:403.7px;font-size:18.5px;color:#aeb1ba;font-weight:normal;letter-spacing:0.6px;">47,000.00</div>
<div class="t" style="left:2449.3px;top:358.7px;font-size:18.5px;color:#aeb1ba;font-weight:normal;letter-spacing:0.6px;">48,000.00</div>
<div class="t" style="left:2449.3px;top:313.7px;font-size:18.5px;color:#aeb1ba;font-weight:normal;letter-spacing:0.6px;">49,000.00</div>
<div class="t" style="left:2449.3px;top:268.7px;font-size:18.5px;color:#aeb1ba;font-weight:normal;letter-spacing:0.6px;">50,000.00</div>
<div class="t" style="left:2449.3px;top:223.7px;font-size:18.5px;color:#aeb1ba;font-weight:normal;letter-spacing:0.6px;">51,000.00</div>
<div class="t" style="left:2449.3px;top:178.7px;font-size:18.5px;color:#aeb1ba;font-weight:normal;letter-spacing:0.6px;">52,000.00</div>
<div class="t" style="left:2449.3px;top:133.7px;font-size:18.5px;color:#aeb1ba;font-weight:normal;letter-spacing:0.6px;">53,000.00</div>
<div class="t" style="left:2449.3px;top:88.7px;font-size:18.5px;color:#aeb1ba;font-weight:normal;letter-spacing:0.6px;">54,000.00</div>
<div class="t" style="left:2449.3px;top:43.7px;font-size:18.5px;color:#aeb1ba;font-weight:normal;letter-spacing:0.6px;">55,000.00</div>
<div class="pl" style="top:229.1px;height:24.8px;background:#479a83;color:#ffffff"><span>50,842.88</span></div>
<div class="pl" style="top:542.1px;height:24.8px;background:#ffffff;color:#10131c"><span>43,876.41</span></div>
<div class="pl" style="top:607.0px;height:24.8px;background:#ffffff;color:#10131c"><span>42,426.76</span></div>
<div class="pl" style="top:666.8px;height:24.8px;background:#b3b6bf;color:#10131c"><span>41,087.75</span></div>
<div class="pl" style="top:703.9px;height:24.9px;background:#fdea5c;color:#10131c"><span>40,249.85</span></div>
<div class="pl" style="top:728.8px;height:24.9px;background:#e0474e;color:#ffffff"><span>39,831.54</span></div>
<div class="pl" style="top:753.7px;height:25.4px;background:#b3b6bf;color:#10131c"><span>39,435.35</span></div>
<div class="pl" style="top:779.0px;height:25px;background:#51b9d8;color:#10131c"><span>38,887.64</span></div>
<div class="pl" style="top:804.0px;height:24.5px;background:#ffffff;color:#10131c"><span>38,489.84</span></div>
<div class="pl" style="top:828.5px;height:24.700000000000045px;background:#ffffff;color:#10131c"><span>38,369.63</span></div>
<div class="pl" style="top:853.2px;height:25.09999999999991px;background:#ffffff;color:#10131c"><span>38,068.01</span></div>
<div class="pl" style="top:878.3px;height:25.200000000000045px;background:#ffffff;color:#10131c"><span>37,736.04</span></div>
<div class="pl" style="top:904.4px;height:24.600000000000023px;background:#ffffff;color:#10131c"><span>37,621.77</span></div>
<div class="pl" style="top:929.0px;height:24.600000000000023px;background:#ffffff;color:#10131c"><span>37,534.81</span></div>
<div class="pl" style="top:953.6px;height:24.899999999999977px;background:#ffffff;color:#10131c"><span>36,737.46</span></div>
<div class="pl" style="top:978.5px;height:24.899999999999977px;background:#f2a033;color:#10131c"><span>35,707.84</span></div>
<div class="pl" style="top:1003.4px;height:24.899999999999977px;background:#e0474e;color:#ffffff"><span>33,786.43</span></div>
<div class="pl" style="top:1134.2px;height:24.8px;background:#b3b6bf;color:#10131c"><span>30,664.12</span></div>
<div class="t" style="left:104.6px;top:1304.9px;font-size:19px;color:#aeb1ba;letter-spacing:0.3px">8</div><div class="t" style="left:246.6px;top:1304.9px;font-size:19px;color:#aeb1ba;letter-spacing:0.3px">9</div><div class="t" style="left:369.2px;top:1304.9px;font-size:19px;color:#aeb1ba;letter-spacing:0.3px">10</div><div class="t" style="left:518.2px;top:1304.9px;font-size:19px;color:#aeb1ba;letter-spacing:0.3px">11</div><div class="t" style="left:653.2px;top:1304.9px;font-size:19px;color:#aeb1ba;letter-spacing:0.3px">12</div><div class="t" style="left:928.6px;top:1304.9px;font-size:19px;color:#aeb1ba;letter-spacing:0.3px">2</div><div class="t" style="left:1050.6px;top:1304.9px;font-size:19px;color:#aeb1ba;letter-spacing:0.3px">3</div><div class="t" style="left:1185.6px;top:1304.9px;font-size:19px;color:#aeb1ba;letter-spacing:0.3px">4</div><div class="t" style="left:1327.6px;top:1304.9px;font-size:19px;color:#aeb1ba;letter-spacing:0.3px">5</div><div class="t" style="left:1462.6px;top:1304.9px;font-size:19px;color:#aeb1ba;letter-spacing:0.3px">6</div><div class="t" style="left:1604.6px;top:1304.9px;font-size:19px;color:#aeb1ba;letter-spacing:0.3px">7</div><div class="t" style="left:1753.6px;top:1304.9px;font-size:19px;color:#aeb1ba;letter-spacing:0.3px">8</div><div class="t" style="left:1888.6px;top:1304.9px;font-size:19px;color:#aeb1ba;letter-spacing:0.3px">9</div><div class="t" style="left:2018.2px;top:1304.9px;font-size:19px;color:#aeb1ba;letter-spacing:0.3px">10</div><div class="t" style="left:2166.2px;top:1304.9px;font-size:19px;color:#aeb1ba;letter-spacing:0.3px">11</div><div class="t" style="left:2288.2px;top:1304.9px;font-size:19px;color:#aeb1ba;letter-spacing:0.3px">12</div><div class="t" style="left:615px;width:400px;text-align:center;top:1304.9px;font-size:19px;color:#c9cbd3;font-weight:bold;letter-spacing:0.8px">2025</div>
<div style="position:absolute;left:12px;top:10px;width:1272px;height:38px;background:rgba(24,27,39,0.6)"></div>
<div style="position:absolute;left:17.2px;top:15.3px;width:26.6px;height:26.6px;border-radius:50%;background:#2c5a78"></div>
<div class="t" style="left:20.3px;top:22.7px;font-size:12px;color:#ffffff;font-weight:bold;letter-spacing:0px">225</div>
<div class="t" style="left:51.1px;top:19.4px;font-size:22.5px;color:#c0c3cd;font-weight:normal;letter-spacing:0.8px">Japan 225</div>
<div class="t" style="left:314.5px;top:19.4px;font-size:22.5px;color:#c0c3cd;font-weight:normal;letter-spacing:0px">·</div>
<div class="t" style="left:330.5px;top:19.4px;font-size:22.5px;color:#c0c3cd;font-weight:normal;letter-spacing:0px">1</div>
<div class="t" style="left:371.5px;top:19.4px;font-size:22.5px;color:#c0c3cd;font-weight:normal;letter-spacing:0px">·</div>
<div class="t" style="left:384.4px;top:19.4px;font-size:22.5px;color:#c0c3cd;font-weight:normal;letter-spacing:-0.3px">TVC</div>
<div class="t" style="left:592.2px;top:20.6px;font-size:19.6px;color:#46a28a;font-weight:normal;letter-spacing:0.72px">51,314.04</div>
<div class="t" style="left:735.2px;top:20.6px;font-size:19.6px;color:#46a28a;font-weight:normal;letter-spacing:0.72px">51,513.16</div>
<div class="t" style="left:878.0px;top:20.6px;font-size:19.6px;color:#46a28a;font-weight:normal;letter-spacing:0.72px">50,581.17</div>
<div class="t" style="left:1021.0px;top:20.6px;font-size:19.6px;color:#46a28a;font-weight:normal;letter-spacing:0.72px">50,842.88</div>
<div class="t" style="left:1123.7px;top:20.6px;font-size:19.6px;color:#46a28a;font-weight:normal;letter-spacing:0.45px">−68.83 (−0.14%)</div>
<div style="position:absolute;left:481.2px;top:15.6px;width:58.6px;height:26.6px;border-radius:13.3px;overflow:hidden;background:#2a2d39"><div style="position:absolute;left:29.5px;top:0;width:30px;height:100%;background:#3e1f33"></div><div style="position:absolute;left:9.5px;top:10.3px;width:14.5px;height:6.2px;border-radius:3.1px;background:#a9aaae"></div></div>
<div class="t" style="left:517.5px;top:16.9px;font-size:24px;color:#e0336b;font-weight:bold;letter-spacing:0px">≈</div>
<div class="btn" style="left:16.2px;border-color:#c8434c"></div>
<div class="btn" style="left:197.2px;border-color:#3560e6"></div>
<div class="t" style="left:33.9px;top:60.5px;font-size:18px;color:#ee4a50;font-weight:bold;letter-spacing:1.25px">50,842.88</div>
<div class="t" style="left:214.5px;top:60.5px;font-size:18px;color:#3d6bf5;font-weight:bold;letter-spacing:1.25px">50,842.88</div>
<div class="t" style="left:152.7px;top:71.6px;font-size:16px;color:#c0c3cd;font-weight:normal;letter-spacing:0.4px">0.00</div>
<div style="position:absolute;left:16.2px;top:114px;width:46.8px;height:27.8px;border:1px solid #383b47;border-radius:4px"></div>
<div class="t" style="left:45.6px;top:118.7px;font-size:20px;color:#dfe0e5;font-weight:normal;letter-spacing:0px">5</div>
<div style="position:absolute;left:87.9px;top:115.5px;width:58.2px;height:26.4px;border-radius:13.2px;overflow:hidden;background:#3a2029"><div style="position:absolute;left:29.4px;top:0;width:30px;height:100%;background:#2a1e5a"></div></div>
<div class="t" style="left:100.3px;top:119.2px;font-size:19px;color:#e23a45;font-weight:bold;letter-spacing:0px">!</div>
<div style="position:absolute;left:332px;top:53.1px;width:314px;height:54.7px;border-radius:9px;background:#1e1e1e;box-shadow:0 2px 6px rgba(0,0,0,0.45)"></div>
<div style="position:absolute;left:2441.4px;top:10.3px;width:102px;height:35.5px;border:1px solid #3c3c3e;border-radius:6px;background:#0f0f0f"></div>
<div class="t" style="left:2446.3px;top:20.9px;font-size:17.5px;color:#d6d7dc;font-weight:normal;letter-spacing:0.2px">JPY</div>
</div>
<svg id="ov" style="position:absolute;left:0;top:0" width="2560" height="1339" viewBox="0 0 2560 1339">
<text x="171.3" y="38.2" font-family="'Liberation Sans','Noto Sans CJK JP',sans-serif" font-size="22.5" fill="#c0c3cd">インデックス</text>
<text x="343.5" y="38.2" font-family="'Liberation Sans','Noto Sans CJK JP',sans-serif" font-size="22.5" fill="#c0c3cd">日</text>
<text x="552.5" y="36.4" font-family="'Liberation Sans','Noto Sans CJK JP',sans-serif" font-size="18.6" fill="#b9bcc6">始値</text>
<text x="695.5" y="36.4" font-family="'Liberation Sans','Noto Sans CJK JP',sans-serif" font-size="18.6" fill="#b9bcc6">高値</text>
<text x="838.5" y="36.4" font-family="'Liberation Sans','Noto Sans CJK JP',sans-serif" font-size="18.6" fill="#b9bcc6">安値</text>
<text x="980.8" y="36.4" font-family="'Liberation Sans','Noto Sans CJK JP',sans-serif" font-size="18.6" fill="#b9bcc6">終値</text>
<text x="62" y="95" font-family="'Liberation Sans','Noto Sans CJK JP',sans-serif" font-size="16" fill="#e8474f">売り</text>
<text x="243" y="95" font-family="'Liberation Sans','Noto Sans CJK JP',sans-serif" font-size="16" fill="#3c6cf5">買い</text>
<g font-family="'Liberation Sans','Noto Sans CJK JP',sans-serif" font-size="17.6" fill="#aeb1ba">
<text x="115.69" y="1320.7">月</text>
<text x="257.69" y="1320.7">月</text>
<text x="391.12" y="1320.7">月</text>
<text x="540.12" y="1320.7">月</text>
<text x="675.12" y="1320.7">月</text>
<text x="939.69" y="1320.7">月</text>
<text x="1061.68" y="1320.7">月</text>
<text x="1196.68" y="1320.7">月</text>
<text x="1338.68" y="1320.7">月</text>
<text x="1473.68" y="1320.7">月</text>
<text x="1615.68" y="1320.7">月</text>
<text x="1764.68" y="1320.7">月</text>
<text x="1899.68" y="1320.7">月</text>
<text x="2040.12" y="1320.7">月</text>
<text x="2188.12" y="1320.7">月</text>
<text x="2310.12" y="1320.7">月</text>
</g>
<rect x="343.2" y="71.8" width="2.6" height="2.6" rx="0.6" fill="#4b4b4b"/>
<rect x="343.2" y="79.2" width="2.6" height="2.6" rx="0.6" fill="#4b4b4b"/>
<rect x="343.2" y="86.5" width="2.6" height="2.6" rx="0.6" fill="#4b4b4b"/>
<rect x="351.8" y="71.8" width="2.6" height="2.6" rx="0.6" fill="#4b4b4b"/>
<rect x="351.8" y="79.2" width="2.6" height="2.6" rx="0.6" fill="#4b4b4b"/>
<rect x="351.8" y="86.5" width="2.6" height="2.6" rx="0.6" fill="#4b4b4b"/>
<g fill="#1e1e1e" stroke="#d4d4d4" stroke-width="1.35">
<line x1="384.3" y1="90.4" x2="405.2" y2="69.8"/><circle cx="382" cy="92.7" r="3.2"/><circle cx="407.5" cy="67.5" r="3.2"/>
<line x1="441.7" y1="86" x2="456.3" y2="71"/><circle cx="439.4" cy="88.3" r="3.2"/><circle cx="458.6" cy="68.8" r="3.2"/>
<line x1="447.7" y1="96" x2="455.2" y2="89"/><line x1="459.8" y1="84.4" x2="466.9" y2="77.3"/><circle cx="457.5" cy="86.7" r="3.2"/>
<line x1="490.6" y1="66.4" x2="522.7" y2="66.4"/><line x1="490.6" y1="75" x2="519" y2="75"/><circle cx="522.2" cy="75" r="3.2"/><line x1="490.6" y1="84" x2="522.7" y2="84"/><line x1="494.2" y1="93" x2="522.7" y2="93"/><circle cx="491" cy="93" r="3.2"/>
<line x1="553.5" y1="81" x2="577.8" y2="81"/><circle cx="550.3" cy="81" r="3.2"/>
<line x1="608.5" y1="89.1" x2="616.1" y2="81.7"/><line x1="620.7" y1="77.1" x2="632.5" y2="65.6"/><circle cx="606.25" cy="91.4" r="3.2"/><circle cx="618.4" cy="79.4" r="3.2"/>
</g>
<path d="M446 20H464L458.2 29L464 38H446Z" fill="#ea5b56"/>
<polyline points="26.5,126.5 32,131.5 37.5,126.5" fill="none" stroke="#dfe0e5" stroke-width="2" stroke-linecap="round" stroke-linejoin="round"/>
<polyline points="2532,28.8 2535.6,32.2 2539.2,28.8" fill="none" stroke="#d6d7dc" stroke-width="1.8" stroke-linecap="round" stroke-linejoin="round"/>
<g fill="none" stroke="#6a3df6" stroke-width="2.2" stroke-linecap="butt">
<path d="M122.7 126.0A8.0 8.0 0 0 1 137.7 126.0"/>
<path d="M137.7 131.4A8.0 8.0 0 0 1 122.7 131.4"/>
</g>
<path d="M134.5 121.8L141.3 124.5L137.2 129.2Z" fill="#6a3df6"/>
<path d="M125.9 135.6L119.1 132.9L123.2 128.2Z" fill="#6a3df6"/>
<circle cx="2220.4" cy="1274.3" r="15.2" fill="#0e0e0f" stroke="#0e0e0f" stroke-width="3"/>
<circle cx="2220.4" cy="1274.3" r="14.4" fill="#0e0e0f" stroke="#a151c2" stroke-width="2.3"/>
<path d="M2223.8 1266.4L2213.9 1275.4L2219.9 1275.8L2215.8 1282.5L2226.8 1273.3L2221.6 1273Z" fill="#a151c2"/>
<circle cx="2230.5" cy="1264.4" r="5.6" fill="#0e0e0f"/><circle cx="2230.5" cy="1264.4" r="4.1" fill="#e5494f"/>
<path d="M2484.2 1314.6L2489.15 1305.7H2500.7L2505.6 1314.6L2500.7 1323.7H2489.15Z" fill="none" stroke="#d6d6d8" stroke-width="1.8" stroke-linejoin="round"/><circle cx="2494.8" cy="1314.7" r="3.2" fill="none" stroke="#d6d6d8" stroke-width="1.8"/>
<circle cx="2573" cy="1056" r="21" fill="#2b2b2d"/>
<g stroke="#121213" stroke-width="4" stroke-linejoin="round" fill="#dcdcdc" paint-order="stroke fill">
<path d="M22.7 1250.2H40.5V1272.1H31.8V1258.9H22.7Z"/>
<circle cx="48.1" cy="1254.1" r="3.9"/>
<path d="M55.2 1250.2H66.9L59.3 1272.1H48.6Z"/>
<text x="78" y="1272.1" font-family="Liberation Sans, sans-serif" font-weight="bold" font-size="30" letter-spacing="0.1">TradingView</text>
</g>
</svg>
</body></html>
